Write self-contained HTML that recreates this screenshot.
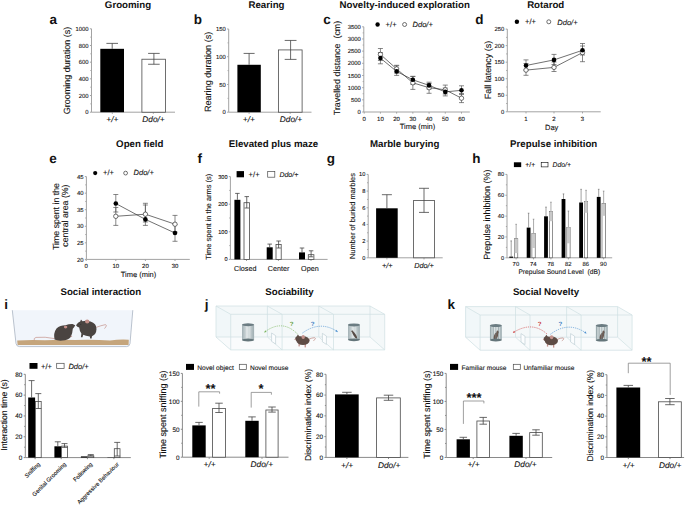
<!DOCTYPE html>
<html><head><meta charset="utf-8"><style>
html,body{margin:0;padding:0;background:#fff;width:685px;height:505px;overflow:hidden}
svg{display:block;font-family:"Liberation Sans",sans-serif;text-rendering:geometricPrecision}
svg text{white-space:pre}
</style></head><body>
<svg width="685" height="505" viewBox="0 0 685 505">
<defs><linearGradient id="cyl" x1="0" x2="1" y1="0" y2="0">
<stop offset="0" stop-color="#a3b1b5"/><stop offset="0.45" stop-color="#dde4e5"/><stop offset="1" stop-color="#9eadb1"/></linearGradient>
<linearGradient id="cylc" x1="0" x2="1" y1="0" y2="0">
<stop offset="0" stop-color="#b7c4c7"/><stop offset="0.5" stop-color="#e6ecec"/><stop offset="1" stop-color="#b7c4c7"/></linearGradient></defs>
<rect width="685" height="505" fill="#fff"/>
<text x="128.00" y="7.70" font-size="9.7" font-weight="bold" text-anchor="middle" fill="#111">Grooming</text>
<text x="49.50" y="23.90" font-size="13.5" font-weight="bold" text-anchor="start" fill="#111">a</text>
<line x1="91.50" y1="28.80" x2="91.50" y2="112.20" stroke="#a3a3a3" stroke-width="1.0"/>
<line x1="89.90" y1="112.20" x2="91.50" y2="112.20" stroke="#a3a3a3" stroke-width="1.0"/>
<text x="88.60" y="114.32" font-size="5.9" font-weight="normal" text-anchor="end" fill="#111" stroke="#111" stroke-width="0.1">0</text>
<line x1="89.90" y1="95.52" x2="91.50" y2="95.52" stroke="#a3a3a3" stroke-width="1.0"/>
<text x="88.60" y="97.64" font-size="5.9" font-weight="normal" text-anchor="end" fill="#111" stroke="#111" stroke-width="0.1">200</text>
<line x1="89.90" y1="78.84" x2="91.50" y2="78.84" stroke="#a3a3a3" stroke-width="1.0"/>
<text x="88.60" y="80.96" font-size="5.9" font-weight="normal" text-anchor="end" fill="#111" stroke="#111" stroke-width="0.1">400</text>
<line x1="89.90" y1="62.16" x2="91.50" y2="62.16" stroke="#a3a3a3" stroke-width="1.0"/>
<text x="88.60" y="64.28" font-size="5.9" font-weight="normal" text-anchor="end" fill="#111" stroke="#111" stroke-width="0.1">600</text>
<line x1="89.90" y1="45.48" x2="91.50" y2="45.48" stroke="#a3a3a3" stroke-width="1.0"/>
<text x="88.60" y="47.60" font-size="5.9" font-weight="normal" text-anchor="end" fill="#111" stroke="#111" stroke-width="0.1">800</text>
<line x1="89.90" y1="28.80" x2="91.50" y2="28.80" stroke="#a3a3a3" stroke-width="1.0"/>
<text x="88.60" y="30.92" font-size="5.9" font-weight="normal" text-anchor="end" fill="#111" stroke="#111" stroke-width="0.1">1000</text>
<line x1="90.38" y1="103.86" x2="91.50" y2="103.86" stroke="#a3a3a3" stroke-width="1.0"/>
<line x1="90.38" y1="87.18" x2="91.50" y2="87.18" stroke="#a3a3a3" stroke-width="1.0"/>
<line x1="90.38" y1="70.50" x2="91.50" y2="70.50" stroke="#a3a3a3" stroke-width="1.0"/>
<line x1="90.38" y1="53.82" x2="91.50" y2="53.82" stroke="#a3a3a3" stroke-width="1.0"/>
<line x1="90.38" y1="37.14" x2="91.50" y2="37.14" stroke="#a3a3a3" stroke-width="1.0"/>
<line x1="91.50" y1="112.20" x2="175.00" y2="112.20" stroke="#a3a3a3" stroke-width="1.0"/>
<line x1="112.30" y1="112.20" x2="112.30" y2="113.80" stroke="#a3a3a3" stroke-width="1.0"/>
<line x1="153.30" y1="112.20" x2="153.30" y2="113.80" stroke="#a3a3a3" stroke-width="1.0"/>
<rect x="100.30" y="48.82" width="23.70" height="63.38" fill="#000" stroke="none" stroke-width="0.8"/>
<line x1="112.20" y1="43.39" x2="112.20" y2="48.82" stroke="#444" stroke-width="0.8"/>
<line x1="106.40" y1="43.39" x2="118.00" y2="43.39" stroke="#444" stroke-width="0.8"/>
<rect x="141.90" y="59.22" width="23.50" height="52.98" fill="#fff" stroke="#4a4a4a" stroke-width="0.8"/>
<line x1="153.90" y1="53.40" x2="153.90" y2="64.25" stroke="#444" stroke-width="0.8"/>
<line x1="148.10" y1="53.40" x2="159.70" y2="53.40" stroke="#444" stroke-width="0.8"/>
<line x1="148.10" y1="64.25" x2="159.70" y2="64.25" stroke="#444" stroke-width="0.8"/>
<text x="112.30" y="122.40" font-size="8.3" font-weight="normal" text-anchor="middle" font-style="italic" fill="#111" stroke="#111" stroke-width="0.1">+/+</text>
<text x="153.50" y="122.40" font-size="8.3" font-weight="normal" text-anchor="middle" font-style="italic" fill="#111" stroke="#111" stroke-width="0.1">Ddo/+</text>
<text x="69.80" y="70.40" font-size="9.0" font-weight="normal" text-anchor="middle" fill="#111" stroke="#111" stroke-width="0.1" transform="rotate(-90 69.80 70.40)">Grooming duration (s)</text>
<text x="266.50" y="7.70" font-size="9.7" font-weight="bold" text-anchor="middle" fill="#111">Rearing</text>
<text x="193.80" y="23.90" font-size="13.5" font-weight="bold" text-anchor="start" fill="#111">b</text>
<line x1="228.70" y1="29.00" x2="228.70" y2="112.20" stroke="#a3a3a3" stroke-width="1.0"/>
<line x1="227.10" y1="112.20" x2="228.70" y2="112.20" stroke="#a3a3a3" stroke-width="1.0"/>
<text x="225.80" y="114.32" font-size="5.9" font-weight="normal" text-anchor="end" fill="#111" stroke="#111" stroke-width="0.1">0</text>
<line x1="227.10" y1="84.47" x2="228.70" y2="84.47" stroke="#a3a3a3" stroke-width="1.0"/>
<text x="225.80" y="86.59" font-size="5.9" font-weight="normal" text-anchor="end" fill="#111" stroke="#111" stroke-width="0.1">50</text>
<line x1="227.10" y1="56.73" x2="228.70" y2="56.73" stroke="#a3a3a3" stroke-width="1.0"/>
<text x="225.80" y="58.86" font-size="5.9" font-weight="normal" text-anchor="end" fill="#111" stroke="#111" stroke-width="0.1">100</text>
<line x1="227.10" y1="29.00" x2="228.70" y2="29.00" stroke="#a3a3a3" stroke-width="1.0"/>
<text x="225.80" y="31.12" font-size="5.9" font-weight="normal" text-anchor="end" fill="#111" stroke="#111" stroke-width="0.1">150</text>
<line x1="227.58" y1="98.33" x2="228.70" y2="98.33" stroke="#a3a3a3" stroke-width="1.0"/>
<line x1="227.58" y1="70.60" x2="228.70" y2="70.60" stroke="#a3a3a3" stroke-width="1.0"/>
<line x1="227.58" y1="42.87" x2="228.70" y2="42.87" stroke="#a3a3a3" stroke-width="1.0"/>
<line x1="228.70" y1="112.20" x2="311.50" y2="112.20" stroke="#a3a3a3" stroke-width="1.0"/>
<line x1="249.10" y1="112.20" x2="249.10" y2="113.80" stroke="#a3a3a3" stroke-width="1.0"/>
<line x1="290.20" y1="112.20" x2="290.20" y2="113.80" stroke="#a3a3a3" stroke-width="1.0"/>
<rect x="237.40" y="64.78" width="23.40" height="47.42" fill="#000" stroke="none" stroke-width="0.8"/>
<line x1="249.10" y1="53.41" x2="249.10" y2="64.78" stroke="#444" stroke-width="0.8"/>
<line x1="243.60" y1="53.41" x2="254.60" y2="53.41" stroke="#444" stroke-width="0.8"/>
<rect x="278.40" y="49.92" width="23.70" height="62.28" fill="#fff" stroke="#4a4a4a" stroke-width="0.8"/>
<line x1="290.60" y1="40.43" x2="290.60" y2="59.40" stroke="#444" stroke-width="0.8"/>
<line x1="284.70" y1="40.43" x2="296.50" y2="40.43" stroke="#444" stroke-width="0.8"/>
<line x1="284.70" y1="59.40" x2="296.50" y2="59.40" stroke="#444" stroke-width="0.8"/>
<text x="248.80" y="122.40" font-size="8.3" font-weight="normal" text-anchor="middle" font-style="italic" fill="#111" stroke="#111" stroke-width="0.1">+/+</text>
<text x="291.00" y="122.40" font-size="8.3" font-weight="normal" text-anchor="middle" font-style="italic" fill="#111" stroke="#111" stroke-width="0.1">Ddo/+</text>
<text x="210.60" y="71.90" font-size="9.1" font-weight="normal" text-anchor="middle" fill="#111" stroke="#111" stroke-width="0.1" transform="rotate(-90 210.60 71.90)">Rearing duration (s)</text>
<text x="404.70" y="7.70" font-size="9.7" font-weight="bold" text-anchor="middle" fill="#111">Novelty-induced exploration</text>
<text x="323.30" y="23.90" font-size="13.5" font-weight="bold" text-anchor="start" fill="#111">c</text>
<line x1="363.80" y1="26.80" x2="363.80" y2="112.00" stroke="#a3a3a3" stroke-width="1.0"/>
<line x1="362.20" y1="112.00" x2="363.80" y2="112.00" stroke="#a3a3a3" stroke-width="1.0"/>
<text x="360.90" y="114.12" font-size="5.9" font-weight="normal" text-anchor="end" fill="#111" stroke="#111" stroke-width="0.1">0</text>
<line x1="362.20" y1="99.83" x2="363.80" y2="99.83" stroke="#a3a3a3" stroke-width="1.0"/>
<text x="360.90" y="101.95" font-size="5.9" font-weight="normal" text-anchor="end" fill="#111" stroke="#111" stroke-width="0.1">500</text>
<line x1="362.20" y1="87.66" x2="363.80" y2="87.66" stroke="#a3a3a3" stroke-width="1.0"/>
<text x="360.90" y="89.78" font-size="5.9" font-weight="normal" text-anchor="end" fill="#111" stroke="#111" stroke-width="0.1">1000</text>
<line x1="362.20" y1="75.49" x2="363.80" y2="75.49" stroke="#a3a3a3" stroke-width="1.0"/>
<text x="360.90" y="77.61" font-size="5.9" font-weight="normal" text-anchor="end" fill="#111" stroke="#111" stroke-width="0.1">1500</text>
<line x1="362.20" y1="63.31" x2="363.80" y2="63.31" stroke="#a3a3a3" stroke-width="1.0"/>
<text x="360.90" y="65.44" font-size="5.9" font-weight="normal" text-anchor="end" fill="#111" stroke="#111" stroke-width="0.1">2000</text>
<line x1="362.20" y1="51.14" x2="363.80" y2="51.14" stroke="#a3a3a3" stroke-width="1.0"/>
<text x="360.90" y="53.27" font-size="5.9" font-weight="normal" text-anchor="end" fill="#111" stroke="#111" stroke-width="0.1">2500</text>
<line x1="362.20" y1="38.97" x2="363.80" y2="38.97" stroke="#a3a3a3" stroke-width="1.0"/>
<text x="360.90" y="41.10" font-size="5.9" font-weight="normal" text-anchor="end" fill="#111" stroke="#111" stroke-width="0.1">3000</text>
<line x1="362.20" y1="26.80" x2="363.80" y2="26.80" stroke="#a3a3a3" stroke-width="1.0"/>
<text x="360.90" y="28.92" font-size="5.9" font-weight="normal" text-anchor="end" fill="#111" stroke="#111" stroke-width="0.1">3500</text>
<line x1="362.68" y1="105.91" x2="363.80" y2="105.91" stroke="#a3a3a3" stroke-width="1.0"/>
<line x1="362.68" y1="93.74" x2="363.80" y2="93.74" stroke="#a3a3a3" stroke-width="1.0"/>
<line x1="362.68" y1="81.57" x2="363.80" y2="81.57" stroke="#a3a3a3" stroke-width="1.0"/>
<line x1="362.68" y1="69.40" x2="363.80" y2="69.40" stroke="#a3a3a3" stroke-width="1.0"/>
<line x1="362.68" y1="57.23" x2="363.80" y2="57.23" stroke="#a3a3a3" stroke-width="1.0"/>
<line x1="362.68" y1="45.06" x2="363.80" y2="45.06" stroke="#a3a3a3" stroke-width="1.0"/>
<line x1="362.68" y1="32.89" x2="363.80" y2="32.89" stroke="#a3a3a3" stroke-width="1.0"/>
<line x1="363.80" y1="112.00" x2="469.80" y2="112.00" stroke="#a3a3a3" stroke-width="1.0"/>
<line x1="364.20" y1="112.00" x2="364.20" y2="113.60" stroke="#a3a3a3" stroke-width="1.0"/>
<line x1="380.42" y1="112.00" x2="380.42" y2="113.60" stroke="#a3a3a3" stroke-width="1.0"/>
<line x1="396.63" y1="112.00" x2="396.63" y2="113.60" stroke="#a3a3a3" stroke-width="1.0"/>
<line x1="412.85" y1="112.00" x2="412.85" y2="113.60" stroke="#a3a3a3" stroke-width="1.0"/>
<line x1="429.07" y1="112.00" x2="429.07" y2="113.60" stroke="#a3a3a3" stroke-width="1.0"/>
<line x1="445.28" y1="112.00" x2="445.28" y2="113.60" stroke="#a3a3a3" stroke-width="1.0"/>
<line x1="461.50" y1="112.00" x2="461.50" y2="113.60" stroke="#a3a3a3" stroke-width="1.0"/>
<text x="364.20" y="120.60" font-size="6" font-weight="normal" text-anchor="middle" fill="#111" stroke="#111" stroke-width="0.1">0</text>
<text x="380.42" y="120.60" font-size="6" font-weight="normal" text-anchor="middle" fill="#111" stroke="#111" stroke-width="0.1">10</text>
<text x="396.63" y="120.60" font-size="6" font-weight="normal" text-anchor="middle" fill="#111" stroke="#111" stroke-width="0.1">20</text>
<text x="412.85" y="120.60" font-size="6" font-weight="normal" text-anchor="middle" fill="#111" stroke="#111" stroke-width="0.1">30</text>
<text x="429.07" y="120.60" font-size="6" font-weight="normal" text-anchor="middle" fill="#111" stroke="#111" stroke-width="0.1">40</text>
<text x="445.28" y="120.60" font-size="6" font-weight="normal" text-anchor="middle" fill="#111" stroke="#111" stroke-width="0.1">50</text>
<text x="461.50" y="120.60" font-size="6" font-weight="normal" text-anchor="middle" fill="#111" stroke="#111" stroke-width="0.1">60</text>
<text x="417.50" y="128.60" font-size="7.5" font-weight="normal" text-anchor="middle" fill="#111" stroke="#111" stroke-width="0.1">Time (min)</text>
<text x="340.40" y="68.00" font-size="8.9" font-weight="normal" text-anchor="middle" fill="#111" stroke="#111" stroke-width="0.1" transform="rotate(-90 340.40 68.00)">Travelled distance  (cm)</text>
<line x1="380.42" y1="52.50" x2="380.42" y2="63.80" stroke="#555" stroke-width="0.7"/>
<line x1="377.92" y1="52.50" x2="382.92" y2="52.50" stroke="#555" stroke-width="0.7"/>
<line x1="377.92" y1="63.80" x2="382.92" y2="63.80" stroke="#555" stroke-width="0.7"/>
<line x1="396.63" y1="65.80" x2="396.63" y2="75.40" stroke="#555" stroke-width="0.7"/>
<line x1="394.13" y1="65.80" x2="399.13" y2="65.80" stroke="#555" stroke-width="0.7"/>
<line x1="394.13" y1="75.40" x2="399.13" y2="75.40" stroke="#555" stroke-width="0.7"/>
<line x1="412.85" y1="76.30" x2="412.85" y2="84.30" stroke="#555" stroke-width="0.7"/>
<line x1="410.35" y1="76.30" x2="415.35" y2="76.30" stroke="#555" stroke-width="0.7"/>
<line x1="410.35" y1="84.30" x2="415.35" y2="84.30" stroke="#555" stroke-width="0.7"/>
<line x1="429.07" y1="82.20" x2="429.07" y2="89.00" stroke="#555" stroke-width="0.7"/>
<line x1="426.57" y1="82.20" x2="431.57" y2="82.20" stroke="#555" stroke-width="0.7"/>
<line x1="426.57" y1="89.00" x2="431.57" y2="89.00" stroke="#555" stroke-width="0.7"/>
<line x1="445.28" y1="88.00" x2="445.28" y2="95.90" stroke="#555" stroke-width="0.7"/>
<line x1="442.78" y1="88.00" x2="447.78" y2="88.00" stroke="#555" stroke-width="0.7"/>
<line x1="442.78" y1="95.90" x2="447.78" y2="95.90" stroke="#555" stroke-width="0.7"/>
<line x1="461.50" y1="85.80" x2="461.50" y2="94.50" stroke="#555" stroke-width="0.7"/>
<line x1="459.00" y1="85.80" x2="464.00" y2="85.80" stroke="#555" stroke-width="0.7"/>
<line x1="459.00" y1="94.50" x2="464.00" y2="94.50" stroke="#555" stroke-width="0.7"/>
<line x1="380.42" y1="48.50" x2="380.42" y2="60.50" stroke="#555" stroke-width="0.7"/>
<line x1="377.92" y1="48.50" x2="382.92" y2="48.50" stroke="#555" stroke-width="0.7"/>
<line x1="377.92" y1="60.50" x2="382.92" y2="60.50" stroke="#555" stroke-width="0.7"/>
<line x1="396.63" y1="65.30" x2="396.63" y2="73.00" stroke="#555" stroke-width="0.7"/>
<line x1="394.13" y1="65.30" x2="399.13" y2="65.30" stroke="#555" stroke-width="0.7"/>
<line x1="394.13" y1="73.00" x2="399.13" y2="73.00" stroke="#555" stroke-width="0.7"/>
<line x1="412.85" y1="76.50" x2="412.85" y2="89.40" stroke="#555" stroke-width="0.7"/>
<line x1="410.35" y1="76.50" x2="415.35" y2="76.50" stroke="#555" stroke-width="0.7"/>
<line x1="410.35" y1="89.40" x2="415.35" y2="89.40" stroke="#555" stroke-width="0.7"/>
<line x1="429.07" y1="83.50" x2="429.07" y2="93.30" stroke="#555" stroke-width="0.7"/>
<line x1="426.57" y1="83.50" x2="431.57" y2="83.50" stroke="#555" stroke-width="0.7"/>
<line x1="426.57" y1="93.30" x2="431.57" y2="93.30" stroke="#555" stroke-width="0.7"/>
<line x1="445.28" y1="85.10" x2="445.28" y2="94.00" stroke="#555" stroke-width="0.7"/>
<line x1="442.78" y1="85.10" x2="447.78" y2="85.10" stroke="#555" stroke-width="0.7"/>
<line x1="442.78" y1="94.00" x2="447.78" y2="94.00" stroke="#555" stroke-width="0.7"/>
<line x1="461.50" y1="93.50" x2="461.50" y2="102.60" stroke="#555" stroke-width="0.7"/>
<line x1="459.00" y1="93.50" x2="464.00" y2="93.50" stroke="#555" stroke-width="0.7"/>
<line x1="459.00" y1="102.60" x2="464.00" y2="102.60" stroke="#555" stroke-width="0.7"/>
<polyline fill="none" stroke="#333" stroke-width="0.7" points="380.42,58.1 396.63,71.4 412.85,79.8 429.07,85.4 445.28,91.9 461.50,90.3"/>
<polyline fill="none" stroke="#333" stroke-width="0.7" points="380.42,54.4 396.63,68.9 412.85,82.8 429.07,87.7 445.28,89.8 461.50,98.2"/>
<circle cx="380.42" cy="54.40" r="2.2" fill="#fff" stroke="#333" stroke-width="0.7"/>
<circle cx="396.63" cy="68.90" r="2.2" fill="#fff" stroke="#333" stroke-width="0.7"/>
<circle cx="412.85" cy="82.80" r="2.2" fill="#fff" stroke="#333" stroke-width="0.7"/>
<circle cx="429.07" cy="87.70" r="2.2" fill="#fff" stroke="#333" stroke-width="0.7"/>
<circle cx="445.28" cy="89.80" r="2.2" fill="#fff" stroke="#333" stroke-width="0.7"/>
<circle cx="461.50" cy="98.20" r="2.2" fill="#fff" stroke="#333" stroke-width="0.7"/>
<circle cx="380.42" cy="58.10" r="2.3" fill="#000" stroke="none" stroke-width="0.8"/>
<circle cx="396.63" cy="71.40" r="2.3" fill="#000" stroke="none" stroke-width="0.8"/>
<circle cx="412.85" cy="79.80" r="2.3" fill="#000" stroke="none" stroke-width="0.8"/>
<circle cx="429.07" cy="85.40" r="2.3" fill="#000" stroke="none" stroke-width="0.8"/>
<circle cx="445.28" cy="91.90" r="2.3" fill="#000" stroke="none" stroke-width="0.8"/>
<circle cx="461.50" cy="90.30" r="2.3" fill="#000" stroke="none" stroke-width="0.8"/>
<circle cx="377.60" cy="24.50" r="2.2" fill="#000" stroke="none" stroke-width="0.8"/>
<text x="385.60" y="26.80" font-size="7.6" font-weight="normal" text-anchor="start" fill="#111" stroke="#111" stroke-width="0.1">+/+</text>
<circle cx="404.60" cy="24.50" r="2.0" fill="#fff" stroke="#333" stroke-width="0.7"/>
<text x="412.60" y="26.80" font-size="7.5" font-weight="normal" text-anchor="start" font-style="italic" fill="#111" stroke="#111" stroke-width="0.1">Ddo/+</text>
<text x="545.70" y="7.70" font-size="9.7" font-weight="bold" text-anchor="middle" fill="#111">Rotarod</text>
<text x="475.30" y="23.90" font-size="13.5" font-weight="bold" text-anchor="start" fill="#111">d</text>
<line x1="507.30" y1="29.10" x2="507.30" y2="111.80" stroke="#a3a3a3" stroke-width="1.0"/>
<line x1="505.70" y1="111.80" x2="507.30" y2="111.80" stroke="#a3a3a3" stroke-width="1.0"/>
<text x="504.40" y="113.92" font-size="5.9" font-weight="normal" text-anchor="end" fill="#111" stroke="#111" stroke-width="0.1">0</text>
<line x1="505.70" y1="95.26" x2="507.30" y2="95.26" stroke="#a3a3a3" stroke-width="1.0"/>
<text x="504.40" y="97.38" font-size="5.9" font-weight="normal" text-anchor="end" fill="#111" stroke="#111" stroke-width="0.1">50</text>
<line x1="505.70" y1="78.72" x2="507.30" y2="78.72" stroke="#a3a3a3" stroke-width="1.0"/>
<text x="504.40" y="80.84" font-size="5.9" font-weight="normal" text-anchor="end" fill="#111" stroke="#111" stroke-width="0.1">100</text>
<line x1="505.70" y1="62.18" x2="507.30" y2="62.18" stroke="#a3a3a3" stroke-width="1.0"/>
<text x="504.40" y="64.30" font-size="5.9" font-weight="normal" text-anchor="end" fill="#111" stroke="#111" stroke-width="0.1">150</text>
<line x1="505.70" y1="45.64" x2="507.30" y2="45.64" stroke="#a3a3a3" stroke-width="1.0"/>
<text x="504.40" y="47.76" font-size="5.9" font-weight="normal" text-anchor="end" fill="#111" stroke="#111" stroke-width="0.1">200</text>
<line x1="505.70" y1="29.10" x2="507.30" y2="29.10" stroke="#a3a3a3" stroke-width="1.0"/>
<text x="504.40" y="31.22" font-size="5.9" font-weight="normal" text-anchor="end" fill="#111" stroke="#111" stroke-width="0.1">250</text>
<line x1="506.18" y1="103.53" x2="507.30" y2="103.53" stroke="#a3a3a3" stroke-width="1.0"/>
<line x1="506.18" y1="86.99" x2="507.30" y2="86.99" stroke="#a3a3a3" stroke-width="1.0"/>
<line x1="506.18" y1="70.45" x2="507.30" y2="70.45" stroke="#a3a3a3" stroke-width="1.0"/>
<line x1="506.18" y1="53.91" x2="507.30" y2="53.91" stroke="#a3a3a3" stroke-width="1.0"/>
<line x1="506.18" y1="37.37" x2="507.30" y2="37.37" stroke="#a3a3a3" stroke-width="1.0"/>
<line x1="507.30" y1="111.80" x2="600.70" y2="111.80" stroke="#a3a3a3" stroke-width="1.0"/>
<line x1="526.00" y1="111.80" x2="526.00" y2="113.40" stroke="#a3a3a3" stroke-width="1.0"/>
<line x1="554.00" y1="111.80" x2="554.00" y2="113.40" stroke="#a3a3a3" stroke-width="1.0"/>
<line x1="582.50" y1="111.80" x2="582.50" y2="113.40" stroke="#a3a3a3" stroke-width="1.0"/>
<text x="526.00" y="120.60" font-size="6" font-weight="normal" text-anchor="middle" fill="#111" stroke="#111" stroke-width="0.1">1</text>
<text x="554.00" y="120.60" font-size="6" font-weight="normal" text-anchor="middle" fill="#111" stroke="#111" stroke-width="0.1">2</text>
<text x="582.50" y="120.60" font-size="6" font-weight="normal" text-anchor="middle" fill="#111" stroke="#111" stroke-width="0.1">3</text>
<text x="551.70" y="130.00" font-size="7.5" font-weight="normal" text-anchor="middle" fill="#111" stroke="#111" stroke-width="0.1">Day</text>
<text x="491.30" y="70.00" font-size="9.0" font-weight="normal" text-anchor="middle" fill="#111" stroke="#111" stroke-width="0.1" transform="rotate(-90 491.30 70.00)">Fall latency (s)</text>
<line x1="526.00" y1="59.90" x2="526.00" y2="70.00" stroke="#555" stroke-width="0.7"/>
<line x1="523.50" y1="59.90" x2="528.50" y2="59.90" stroke="#555" stroke-width="0.7"/>
<line x1="523.50" y1="70.00" x2="528.50" y2="70.00" stroke="#555" stroke-width="0.7"/>
<line x1="554.00" y1="54.40" x2="554.00" y2="64.50" stroke="#555" stroke-width="0.7"/>
<line x1="551.50" y1="54.40" x2="556.50" y2="54.40" stroke="#555" stroke-width="0.7"/>
<line x1="551.50" y1="64.50" x2="556.50" y2="64.50" stroke="#555" stroke-width="0.7"/>
<line x1="582.50" y1="43.50" x2="582.50" y2="55.00" stroke="#555" stroke-width="0.7"/>
<line x1="580.00" y1="43.50" x2="585.00" y2="43.50" stroke="#555" stroke-width="0.7"/>
<line x1="580.00" y1="55.00" x2="585.00" y2="55.00" stroke="#555" stroke-width="0.7"/>
<line x1="526.00" y1="63.50" x2="526.00" y2="75.30" stroke="#555" stroke-width="0.7"/>
<line x1="523.50" y1="63.50" x2="528.50" y2="63.50" stroke="#555" stroke-width="0.7"/>
<line x1="523.50" y1="75.30" x2="528.50" y2="75.30" stroke="#555" stroke-width="0.7"/>
<line x1="554.00" y1="62.00" x2="554.00" y2="71.50" stroke="#555" stroke-width="0.7"/>
<line x1="551.50" y1="62.00" x2="556.50" y2="62.00" stroke="#555" stroke-width="0.7"/>
<line x1="551.50" y1="71.50" x2="556.50" y2="71.50" stroke="#555" stroke-width="0.7"/>
<line x1="582.50" y1="46.00" x2="582.50" y2="61.70" stroke="#555" stroke-width="0.7"/>
<line x1="580.00" y1="46.00" x2="585.00" y2="46.00" stroke="#555" stroke-width="0.7"/>
<line x1="580.00" y1="61.70" x2="585.00" y2="61.70" stroke="#555" stroke-width="0.7"/>
<polyline fill="none" stroke="#333" stroke-width="0.7" points="526.0,65.5 554.0,59.9 582.5,50.3"/>
<polyline fill="none" stroke="#333" stroke-width="0.7" points="526.0,70.1 554.0,67.4 582.5,52.6"/>
<circle cx="526.00" cy="70.10" r="2.2" fill="#fff" stroke="#333" stroke-width="0.7"/>
<circle cx="554.00" cy="67.40" r="2.2" fill="#fff" stroke="#333" stroke-width="0.7"/>
<circle cx="582.50" cy="52.60" r="2.2" fill="#fff" stroke="#333" stroke-width="0.7"/>
<circle cx="526.00" cy="65.50" r="2.3" fill="#000" stroke="none" stroke-width="0.8"/>
<circle cx="554.00" cy="59.90" r="2.3" fill="#000" stroke="none" stroke-width="0.8"/>
<circle cx="582.50" cy="50.30" r="2.3" fill="#000" stroke="none" stroke-width="0.8"/>
<circle cx="516.90" cy="21.80" r="2.2" fill="#000" stroke="none" stroke-width="0.8"/>
<text x="525.00" y="24.40" font-size="7.6" font-weight="normal" text-anchor="start" fill="#111" stroke="#111" stroke-width="0.1">+/+</text>
<circle cx="548.80" cy="21.80" r="2.0" fill="#fff" stroke="#333" stroke-width="0.7"/>
<text x="557.30" y="24.60" font-size="7.5" font-weight="normal" text-anchor="start" font-style="italic" fill="#111" stroke="#111" stroke-width="0.1">Ddo/+</text>
<text x="139.80" y="146.80" font-size="9.7" font-weight="bold" text-anchor="middle" fill="#111">Open field</text>
<text x="49.30" y="162.60" font-size="13.5" font-weight="bold" text-anchor="start" fill="#111">e</text>
<line x1="86.40" y1="176.60" x2="86.40" y2="259.40" stroke="#a3a3a3" stroke-width="1.0"/>
<line x1="84.80" y1="259.40" x2="86.40" y2="259.40" stroke="#a3a3a3" stroke-width="1.0"/>
<text x="83.50" y="261.52" font-size="5.9" font-weight="normal" text-anchor="end" fill="#111" stroke="#111" stroke-width="0.1">20</text>
<line x1="84.80" y1="242.84" x2="86.40" y2="242.84" stroke="#a3a3a3" stroke-width="1.0"/>
<text x="83.50" y="244.96" font-size="5.9" font-weight="normal" text-anchor="end" fill="#111" stroke="#111" stroke-width="0.1">25</text>
<line x1="84.80" y1="226.28" x2="86.40" y2="226.28" stroke="#a3a3a3" stroke-width="1.0"/>
<text x="83.50" y="228.40" font-size="5.9" font-weight="normal" text-anchor="end" fill="#111" stroke="#111" stroke-width="0.1">30</text>
<line x1="84.80" y1="209.72" x2="86.40" y2="209.72" stroke="#a3a3a3" stroke-width="1.0"/>
<text x="83.50" y="211.84" font-size="5.9" font-weight="normal" text-anchor="end" fill="#111" stroke="#111" stroke-width="0.1">35</text>
<line x1="84.80" y1="193.16" x2="86.40" y2="193.16" stroke="#a3a3a3" stroke-width="1.0"/>
<text x="83.50" y="195.28" font-size="5.9" font-weight="normal" text-anchor="end" fill="#111" stroke="#111" stroke-width="0.1">40</text>
<line x1="84.80" y1="176.60" x2="86.40" y2="176.60" stroke="#a3a3a3" stroke-width="1.0"/>
<text x="83.50" y="178.72" font-size="5.9" font-weight="normal" text-anchor="end" fill="#111" stroke="#111" stroke-width="0.1">45</text>
<line x1="85.28" y1="251.12" x2="86.40" y2="251.12" stroke="#a3a3a3" stroke-width="1.0"/>
<line x1="85.28" y1="234.56" x2="86.40" y2="234.56" stroke="#a3a3a3" stroke-width="1.0"/>
<line x1="85.28" y1="218.00" x2="86.40" y2="218.00" stroke="#a3a3a3" stroke-width="1.0"/>
<line x1="85.28" y1="201.44" x2="86.40" y2="201.44" stroke="#a3a3a3" stroke-width="1.0"/>
<line x1="85.28" y1="184.88" x2="86.40" y2="184.88" stroke="#a3a3a3" stroke-width="1.0"/>
<line x1="86.40" y1="259.40" x2="189.80" y2="259.40" stroke="#a3a3a3" stroke-width="1.0"/>
<line x1="86.20" y1="259.40" x2="86.20" y2="261.00" stroke="#a3a3a3" stroke-width="1.0"/>
<line x1="115.80" y1="259.40" x2="115.80" y2="261.00" stroke="#a3a3a3" stroke-width="1.0"/>
<line x1="145.40" y1="259.40" x2="145.40" y2="261.00" stroke="#a3a3a3" stroke-width="1.0"/>
<line x1="175.00" y1="259.40" x2="175.00" y2="261.00" stroke="#a3a3a3" stroke-width="1.0"/>
<text x="86.20" y="268.00" font-size="6" font-weight="normal" text-anchor="middle" fill="#111" stroke="#111" stroke-width="0.1">0</text>
<text x="115.80" y="268.00" font-size="6" font-weight="normal" text-anchor="middle" fill="#111" stroke="#111" stroke-width="0.1">10</text>
<text x="145.40" y="268.00" font-size="6" font-weight="normal" text-anchor="middle" fill="#111" stroke="#111" stroke-width="0.1">20</text>
<text x="175.00" y="268.00" font-size="6" font-weight="normal" text-anchor="middle" fill="#111" stroke="#111" stroke-width="0.1">30</text>
<text x="138.50" y="277.00" font-size="7.5" font-weight="normal" text-anchor="middle" fill="#111" stroke="#111" stroke-width="0.1">Time (min)</text>
<text x="58.60" y="216.50" font-size="8.75" font-weight="normal" text-anchor="middle" fill="#111" stroke="#111" stroke-width="0.1" transform="rotate(-90 58.60 216.50)">Time spent in the</text>
<text x="68.50" y="215.60" font-size="8.75" font-weight="normal" text-anchor="middle" fill="#111" stroke="#111" stroke-width="0.1" transform="rotate(-90 68.50 215.60)">central area (%)</text>
<line x1="115.80" y1="194.50" x2="115.80" y2="212.00" stroke="#555" stroke-width="0.7"/>
<line x1="113.30" y1="194.50" x2="118.30" y2="194.50" stroke="#555" stroke-width="0.7"/>
<line x1="113.30" y1="212.00" x2="118.30" y2="212.00" stroke="#555" stroke-width="0.7"/>
<line x1="145.40" y1="205.00" x2="145.40" y2="225.40" stroke="#555" stroke-width="0.7"/>
<line x1="142.90" y1="205.00" x2="147.90" y2="205.00" stroke="#555" stroke-width="0.7"/>
<line x1="142.90" y1="225.40" x2="147.90" y2="225.40" stroke="#555" stroke-width="0.7"/>
<line x1="175.00" y1="224.50" x2="175.00" y2="241.30" stroke="#555" stroke-width="0.7"/>
<line x1="172.50" y1="224.50" x2="177.50" y2="224.50" stroke="#555" stroke-width="0.7"/>
<line x1="172.50" y1="241.30" x2="177.50" y2="241.30" stroke="#555" stroke-width="0.7"/>
<line x1="115.80" y1="207.50" x2="115.80" y2="225.40" stroke="#555" stroke-width="0.7"/>
<line x1="113.30" y1="207.50" x2="118.30" y2="207.50" stroke="#555" stroke-width="0.7"/>
<line x1="113.30" y1="225.40" x2="118.30" y2="225.40" stroke="#555" stroke-width="0.7"/>
<line x1="145.40" y1="203.30" x2="145.40" y2="222.00" stroke="#555" stroke-width="0.7"/>
<line x1="142.90" y1="203.30" x2="147.90" y2="203.30" stroke="#555" stroke-width="0.7"/>
<line x1="142.90" y1="222.00" x2="147.90" y2="222.00" stroke="#555" stroke-width="0.7"/>
<line x1="175.00" y1="215.40" x2="175.00" y2="232.00" stroke="#555" stroke-width="0.7"/>
<line x1="172.50" y1="215.40" x2="177.50" y2="215.40" stroke="#555" stroke-width="0.7"/>
<line x1="172.50" y1="232.00" x2="177.50" y2="232.00" stroke="#555" stroke-width="0.7"/>
<polyline fill="none" stroke="#333" stroke-width="0.7" points="115.80,203.5 145.40,219.4 175.00,233.0"/>
<polyline fill="none" stroke="#333" stroke-width="0.7" points="115.80,216.3 145.40,214.2 175.00,224.2"/>
<circle cx="115.80" cy="216.30" r="2.2" fill="#fff" stroke="#333" stroke-width="0.7"/>
<circle cx="145.40" cy="214.20" r="2.2" fill="#fff" stroke="#333" stroke-width="0.7"/>
<circle cx="175.00" cy="224.20" r="2.2" fill="#fff" stroke="#333" stroke-width="0.7"/>
<circle cx="115.80" cy="203.50" r="2.3" fill="#000" stroke="none" stroke-width="0.8"/>
<circle cx="145.40" cy="219.40" r="2.3" fill="#000" stroke="none" stroke-width="0.8"/>
<circle cx="175.00" cy="233.00" r="2.3" fill="#000" stroke="none" stroke-width="0.8"/>
<circle cx="95.20" cy="173.10" r="2.1" fill="#000" stroke="none" stroke-width="0.8"/>
<text x="103.00" y="175.40" font-size="7.6" font-weight="normal" text-anchor="start" fill="#111" stroke="#111" stroke-width="0.1">+/+</text>
<circle cx="125.60" cy="173.10" r="1.9" fill="#fff" stroke="#333" stroke-width="0.7"/>
<text x="133.60" y="175.40" font-size="7.5" font-weight="normal" text-anchor="start" font-style="italic" fill="#111" stroke="#111" stroke-width="0.1">Ddo/+</text>
<text x="273.50" y="146.80" font-size="9.7" font-weight="bold" text-anchor="middle" fill="#111">Elevated plus maze</text>
<text x="197.50" y="162.60" font-size="13.5" font-weight="bold" text-anchor="start" fill="#111">f</text>
<line x1="230.40" y1="176.60" x2="230.40" y2="259.40" stroke="#a3a3a3" stroke-width="1.0"/>
<line x1="228.80" y1="259.40" x2="230.40" y2="259.40" stroke="#a3a3a3" stroke-width="1.0"/>
<text x="227.50" y="261.42" font-size="5.6" font-weight="normal" text-anchor="end" fill="#111" stroke="#111" stroke-width="0.1">0</text>
<line x1="228.80" y1="231.80" x2="230.40" y2="231.80" stroke="#a3a3a3" stroke-width="1.0"/>
<text x="227.50" y="233.82" font-size="5.6" font-weight="normal" text-anchor="end" fill="#111" stroke="#111" stroke-width="0.1">100</text>
<line x1="228.80" y1="204.20" x2="230.40" y2="204.20" stroke="#a3a3a3" stroke-width="1.0"/>
<text x="227.50" y="206.22" font-size="5.6" font-weight="normal" text-anchor="end" fill="#111" stroke="#111" stroke-width="0.1">200</text>
<line x1="228.80" y1="176.60" x2="230.40" y2="176.60" stroke="#a3a3a3" stroke-width="1.0"/>
<text x="227.50" y="178.62" font-size="5.6" font-weight="normal" text-anchor="end" fill="#111" stroke="#111" stroke-width="0.1">300</text>
<line x1="229.28" y1="245.60" x2="230.40" y2="245.60" stroke="#a3a3a3" stroke-width="1.0"/>
<line x1="229.28" y1="218.00" x2="230.40" y2="218.00" stroke="#a3a3a3" stroke-width="1.0"/>
<line x1="229.28" y1="190.40" x2="230.40" y2="190.40" stroke="#a3a3a3" stroke-width="1.0"/>
<line x1="230.40" y1="259.40" x2="327.60" y2="259.40" stroke="#a3a3a3" stroke-width="1.0"/>
<line x1="246.50" y1="259.40" x2="246.50" y2="261.00" stroke="#a3a3a3" stroke-width="1.0"/>
<line x1="278.40" y1="259.40" x2="278.40" y2="261.00" stroke="#a3a3a3" stroke-width="1.0"/>
<line x1="311.00" y1="259.40" x2="311.00" y2="261.00" stroke="#a3a3a3" stroke-width="1.0"/>
<rect x="234.40" y="199.80" width="6.00" height="59.60" fill="#000" stroke="none" stroke-width="0.8"/>
<line x1="237.40" y1="193.40" x2="237.40" y2="199.80" stroke="#444" stroke-width="0.8"/>
<line x1="235.15" y1="193.40" x2="239.65" y2="193.40" stroke="#444" stroke-width="0.8"/>
<rect x="244.00" y="202.70" width="5.50" height="56.70" fill="#fff" stroke="#4a4a4a" stroke-width="0.8"/>
<line x1="246.75" y1="196.60" x2="246.75" y2="208.00" stroke="#444" stroke-width="0.8"/>
<line x1="244.50" y1="196.60" x2="249.00" y2="196.60" stroke="#444" stroke-width="0.8"/>
<line x1="244.50" y1="208.00" x2="249.00" y2="208.00" stroke="#444" stroke-width="0.8"/>
<rect x="266.70" y="247.30" width="6.00" height="12.10" fill="#000" stroke="none" stroke-width="0.8"/>
<line x1="269.70" y1="244.10" x2="269.70" y2="247.30" stroke="#444" stroke-width="0.8"/>
<line x1="267.45" y1="244.10" x2="271.95" y2="244.10" stroke="#444" stroke-width="0.8"/>
<rect x="276.00" y="244.50" width="5.20" height="14.90" fill="#fff" stroke="#4a4a4a" stroke-width="0.8"/>
<line x1="278.60" y1="241.00" x2="278.60" y2="248.00" stroke="#444" stroke-width="0.8"/>
<line x1="276.35" y1="241.00" x2="280.85" y2="241.00" stroke="#444" stroke-width="0.8"/>
<line x1="276.35" y1="248.00" x2="280.85" y2="248.00" stroke="#444" stroke-width="0.8"/>
<rect x="299.00" y="252.40" width="6.00" height="7.00" fill="#000" stroke="none" stroke-width="0.8"/>
<line x1="302.00" y1="248.00" x2="302.00" y2="252.40" stroke="#444" stroke-width="0.8"/>
<line x1="299.75" y1="248.00" x2="304.25" y2="248.00" stroke="#444" stroke-width="0.8"/>
<rect x="308.30" y="254.70" width="5.60" height="4.70" fill="#fff" stroke="#4a4a4a" stroke-width="0.8"/>
<line x1="311.10" y1="250.80" x2="311.10" y2="256.80" stroke="#444" stroke-width="0.8"/>
<line x1="308.85" y1="250.80" x2="313.35" y2="250.80" stroke="#444" stroke-width="0.8"/>
<line x1="308.85" y1="256.80" x2="313.35" y2="256.80" stroke="#444" stroke-width="0.8"/>
<text x="245.20" y="271.20" font-size="7.2" font-weight="normal" text-anchor="middle" fill="#111" stroke="#111" stroke-width="0.1">Closed</text>
<text x="278.60" y="271.20" font-size="7.2" font-weight="normal" text-anchor="middle" fill="#111" stroke="#111" stroke-width="0.1">Center</text>
<text x="309.90" y="271.20" font-size="7.2" font-weight="normal" text-anchor="middle" fill="#111" stroke="#111" stroke-width="0.1">Open</text>
<text x="210.90" y="216.80" font-size="7.45" font-weight="normal" text-anchor="middle" fill="#111" stroke="#111" stroke-width="0.1" transform="rotate(-90 210.90 216.80)">Time spent in the arms (s)</text>
<rect x="236.60" y="171.10" width="7.40" height="6.20" fill="#000" stroke="none" stroke-width="0.8"/>
<text x="248.60" y="176.60" font-size="7.6" font-weight="normal" text-anchor="start" fill="#111" stroke="#111" stroke-width="0.1">+/+</text>
<rect x="267.70" y="171.60" width="7.10" height="5.60" fill="#fff" stroke="#4a4a4a" stroke-width="0.7"/>
<text x="279.40" y="176.60" font-size="7" font-weight="normal" text-anchor="start" font-style="italic" fill="#111" stroke="#111" stroke-width="0.1">Ddo/+</text>
<text x="404.70" y="146.80" font-size="9.7" font-weight="bold" text-anchor="middle" fill="#111">Marble burying</text>
<text x="326.80" y="162.60" font-size="13.5" font-weight="bold" text-anchor="start" fill="#111">g</text>
<line x1="368.20" y1="174.40" x2="368.20" y2="257.80" stroke="#a3a3a3" stroke-width="1.0"/>
<line x1="366.60" y1="257.80" x2="368.20" y2="257.80" stroke="#a3a3a3" stroke-width="1.0"/>
<text x="365.30" y="259.85" font-size="5.7" font-weight="normal" text-anchor="end" fill="#111" stroke="#111" stroke-width="0.1">0</text>
<line x1="366.60" y1="241.12" x2="368.20" y2="241.12" stroke="#a3a3a3" stroke-width="1.0"/>
<text x="365.30" y="243.17" font-size="5.7" font-weight="normal" text-anchor="end" fill="#111" stroke="#111" stroke-width="0.1">2</text>
<line x1="366.60" y1="224.44" x2="368.20" y2="224.44" stroke="#a3a3a3" stroke-width="1.0"/>
<text x="365.30" y="226.49" font-size="5.7" font-weight="normal" text-anchor="end" fill="#111" stroke="#111" stroke-width="0.1">4</text>
<line x1="366.60" y1="207.76" x2="368.20" y2="207.76" stroke="#a3a3a3" stroke-width="1.0"/>
<text x="365.30" y="209.81" font-size="5.7" font-weight="normal" text-anchor="end" fill="#111" stroke="#111" stroke-width="0.1">6</text>
<line x1="366.60" y1="191.08" x2="368.20" y2="191.08" stroke="#a3a3a3" stroke-width="1.0"/>
<text x="365.30" y="193.13" font-size="5.7" font-weight="normal" text-anchor="end" fill="#111" stroke="#111" stroke-width="0.1">8</text>
<line x1="366.60" y1="174.40" x2="368.20" y2="174.40" stroke="#a3a3a3" stroke-width="1.0"/>
<text x="365.30" y="176.45" font-size="5.7" font-weight="normal" text-anchor="end" fill="#111" stroke="#111" stroke-width="0.1">10</text>
<line x1="367.08" y1="249.46" x2="368.20" y2="249.46" stroke="#a3a3a3" stroke-width="1.0"/>
<line x1="367.08" y1="232.78" x2="368.20" y2="232.78" stroke="#a3a3a3" stroke-width="1.0"/>
<line x1="367.08" y1="216.10" x2="368.20" y2="216.10" stroke="#a3a3a3" stroke-width="1.0"/>
<line x1="367.08" y1="199.42" x2="368.20" y2="199.42" stroke="#a3a3a3" stroke-width="1.0"/>
<line x1="367.08" y1="182.74" x2="368.20" y2="182.74" stroke="#a3a3a3" stroke-width="1.0"/>
<line x1="368.20" y1="257.80" x2="442.70" y2="257.80" stroke="#a3a3a3" stroke-width="1.0"/>
<line x1="386.90" y1="257.80" x2="386.90" y2="259.40" stroke="#a3a3a3" stroke-width="1.0"/>
<line x1="424.00" y1="257.80" x2="424.00" y2="259.40" stroke="#a3a3a3" stroke-width="1.0"/>
<rect x="376.10" y="208.30" width="21.60" height="49.50" fill="#000" stroke="none" stroke-width="0.8"/>
<line x1="386.90" y1="194.70" x2="386.90" y2="208.30" stroke="#444" stroke-width="0.8"/>
<line x1="381.90" y1="194.70" x2="391.90" y2="194.70" stroke="#444" stroke-width="0.8"/>
<rect x="413.60" y="200.50" width="20.80" height="57.30" fill="#fff" stroke="#4a4a4a" stroke-width="0.8"/>
<line x1="424.00" y1="188.30" x2="424.00" y2="212.40" stroke="#444" stroke-width="0.8"/>
<line x1="419.00" y1="188.30" x2="429.00" y2="188.30" stroke="#444" stroke-width="0.8"/>
<line x1="419.00" y1="212.40" x2="429.00" y2="212.40" stroke="#444" stroke-width="0.8"/>
<text x="387.20" y="267.60" font-size="7.3" font-weight="normal" text-anchor="middle" font-style="italic" fill="#111" stroke="#111" stroke-width="0.1">+/+</text>
<text x="424.00" y="267.60" font-size="7.3" font-weight="normal" text-anchor="middle" font-style="italic" fill="#111" stroke="#111" stroke-width="0.1">Ddo/+</text>
<text x="354.90" y="216.10" font-size="7.45" font-weight="normal" text-anchor="middle" fill="#111" stroke="#111" stroke-width="0.1" transform="rotate(-90 354.90 216.10)">Number of buried marbles</text>
<text x="553.70" y="146.80" font-size="9.7" font-weight="bold" text-anchor="middle" fill="#111">Prepulse inhibition</text>
<text x="472.30" y="162.60" font-size="13.5" font-weight="bold" text-anchor="start" fill="#111">h</text>
<line x1="507.00" y1="174.40" x2="507.00" y2="257.80" stroke="#a3a3a3" stroke-width="1.0"/>
<line x1="505.40" y1="257.80" x2="507.00" y2="257.80" stroke="#a3a3a3" stroke-width="1.0"/>
<text x="504.10" y="259.85" font-size="5.7" font-weight="normal" text-anchor="end" fill="#111" stroke="#111" stroke-width="0.1">0</text>
<line x1="505.40" y1="236.95" x2="507.00" y2="236.95" stroke="#a3a3a3" stroke-width="1.0"/>
<text x="504.10" y="239.00" font-size="5.7" font-weight="normal" text-anchor="end" fill="#111" stroke="#111" stroke-width="0.1">20</text>
<line x1="505.40" y1="216.10" x2="507.00" y2="216.10" stroke="#a3a3a3" stroke-width="1.0"/>
<text x="504.10" y="218.15" font-size="5.7" font-weight="normal" text-anchor="end" fill="#111" stroke="#111" stroke-width="0.1">40</text>
<line x1="505.40" y1="195.25" x2="507.00" y2="195.25" stroke="#a3a3a3" stroke-width="1.0"/>
<text x="504.10" y="197.30" font-size="5.7" font-weight="normal" text-anchor="end" fill="#111" stroke="#111" stroke-width="0.1">60</text>
<line x1="505.40" y1="174.40" x2="507.00" y2="174.40" stroke="#a3a3a3" stroke-width="1.0"/>
<text x="504.10" y="176.45" font-size="5.7" font-weight="normal" text-anchor="end" fill="#111" stroke="#111" stroke-width="0.1">80</text>
<line x1="505.88" y1="247.38" x2="507.00" y2="247.38" stroke="#a3a3a3" stroke-width="1.0"/>
<line x1="505.88" y1="226.53" x2="507.00" y2="226.53" stroke="#a3a3a3" stroke-width="1.0"/>
<line x1="505.88" y1="205.68" x2="507.00" y2="205.68" stroke="#a3a3a3" stroke-width="1.0"/>
<line x1="505.88" y1="184.83" x2="507.00" y2="184.83" stroke="#a3a3a3" stroke-width="1.0"/>
<line x1="507.00" y1="257.80" x2="612.20" y2="257.80" stroke="#a3a3a3" stroke-width="1.0"/>
<line x1="516.10" y1="257.80" x2="516.10" y2="259.40" stroke="#a3a3a3" stroke-width="1.0"/>
<rect x="509.30" y="256.60" width="3.80" height="1.20" fill="#000" stroke="none" stroke-width="0.8"/>
<line x1="511.20" y1="240.90" x2="511.20" y2="256.60" stroke="#555" stroke-width="0.55"/>
<line x1="510.40" y1="240.90" x2="512.00" y2="240.90" stroke="#555" stroke-width="0.55"/>
<rect x="514.50" y="238.70" width="3.30" height="19.10" fill="#fff" stroke="#4a4a4a" stroke-width="0.6"/>
<rect x="514.60" y="238.70" width="3.10" height="14.40" fill="#c9c9c9" stroke="none" stroke-width="0.8"/>
<line x1="516.15" y1="224.30" x2="516.15" y2="238.40" stroke="#666" stroke-width="0.55"/>
<line x1="515.35" y1="224.30" x2="516.95" y2="224.30" stroke="#666" stroke-width="0.55"/>
<text x="515.90" y="265.60" font-size="5.9" font-weight="normal" text-anchor="middle" fill="#111" stroke="#111" stroke-width="0.1">70</text>
<line x1="533.50" y1="257.80" x2="533.50" y2="259.40" stroke="#a3a3a3" stroke-width="1.0"/>
<rect x="526.70" y="227.60" width="3.80" height="30.20" fill="#000" stroke="none" stroke-width="0.8"/>
<line x1="528.60" y1="213.20" x2="528.60" y2="227.60" stroke="#555" stroke-width="0.55"/>
<line x1="527.80" y1="213.20" x2="529.40" y2="213.20" stroke="#555" stroke-width="0.55"/>
<rect x="531.90" y="233.50" width="3.30" height="24.30" fill="#fff" stroke="#4a4a4a" stroke-width="0.6"/>
<rect x="532.00" y="233.50" width="3.10" height="14.50" fill="#c9c9c9" stroke="none" stroke-width="0.8"/>
<line x1="533.55" y1="219.20" x2="533.55" y2="233.20" stroke="#666" stroke-width="0.55"/>
<line x1="532.75" y1="219.20" x2="534.35" y2="219.20" stroke="#666" stroke-width="0.55"/>
<text x="533.30" y="265.60" font-size="5.9" font-weight="normal" text-anchor="middle" fill="#111" stroke="#111" stroke-width="0.1">74</text>
<line x1="550.90" y1="257.80" x2="550.90" y2="259.40" stroke="#a3a3a3" stroke-width="1.0"/>
<rect x="544.10" y="216.30" width="3.80" height="41.50" fill="#000" stroke="none" stroke-width="0.8"/>
<line x1="546.00" y1="207.10" x2="546.00" y2="216.30" stroke="#555" stroke-width="0.55"/>
<line x1="545.20" y1="207.10" x2="546.80" y2="207.10" stroke="#555" stroke-width="0.55"/>
<rect x="549.30" y="211.50" width="3.30" height="46.30" fill="#fff" stroke="#4a4a4a" stroke-width="0.6"/>
<rect x="549.40" y="211.50" width="3.10" height="9.70" fill="#c9c9c9" stroke="none" stroke-width="0.8"/>
<line x1="550.95" y1="202.20" x2="550.95" y2="211.20" stroke="#666" stroke-width="0.55"/>
<line x1="550.15" y1="202.20" x2="551.75" y2="202.20" stroke="#666" stroke-width="0.55"/>
<text x="550.70" y="265.60" font-size="5.9" font-weight="normal" text-anchor="middle" fill="#111" stroke="#111" stroke-width="0.1">78</text>
<line x1="568.40" y1="257.80" x2="568.40" y2="259.40" stroke="#a3a3a3" stroke-width="1.0"/>
<rect x="561.60" y="199.00" width="3.80" height="58.80" fill="#000" stroke="none" stroke-width="0.8"/>
<line x1="563.50" y1="193.90" x2="563.50" y2="199.00" stroke="#555" stroke-width="0.55"/>
<line x1="562.70" y1="193.90" x2="564.30" y2="193.90" stroke="#555" stroke-width="0.55"/>
<rect x="566.80" y="227.30" width="3.30" height="30.50" fill="#fff" stroke="#4a4a4a" stroke-width="0.6"/>
<rect x="566.90" y="227.30" width="3.10" height="16.00" fill="#c9c9c9" stroke="none" stroke-width="0.8"/>
<line x1="568.45" y1="211.00" x2="568.45" y2="227.00" stroke="#666" stroke-width="0.55"/>
<line x1="567.65" y1="211.00" x2="569.25" y2="211.00" stroke="#666" stroke-width="0.55"/>
<text x="568.20" y="265.60" font-size="5.9" font-weight="normal" text-anchor="middle" fill="#111" stroke="#111" stroke-width="0.1">82</text>
<line x1="586.00" y1="257.80" x2="586.00" y2="259.40" stroke="#a3a3a3" stroke-width="1.0"/>
<rect x="579.20" y="202.50" width="3.80" height="55.30" fill="#000" stroke="none" stroke-width="0.8"/>
<line x1="581.10" y1="189.30" x2="581.10" y2="202.50" stroke="#555" stroke-width="0.55"/>
<line x1="580.30" y1="189.30" x2="581.90" y2="189.30" stroke="#555" stroke-width="0.55"/>
<rect x="584.40" y="201.30" width="3.30" height="56.50" fill="#fff" stroke="#4a4a4a" stroke-width="0.6"/>
<rect x="584.50" y="201.30" width="3.10" height="11.50" fill="#c9c9c9" stroke="none" stroke-width="0.8"/>
<line x1="586.05" y1="190.30" x2="586.05" y2="201.00" stroke="#666" stroke-width="0.55"/>
<line x1="585.25" y1="190.30" x2="586.85" y2="190.30" stroke="#666" stroke-width="0.55"/>
<text x="585.80" y="265.60" font-size="5.9" font-weight="normal" text-anchor="middle" fill="#111" stroke="#111" stroke-width="0.1">86</text>
<line x1="603.60" y1="257.80" x2="603.60" y2="259.40" stroke="#a3a3a3" stroke-width="1.0"/>
<rect x="596.80" y="196.90" width="3.80" height="60.90" fill="#000" stroke="none" stroke-width="0.8"/>
<line x1="598.70" y1="189.30" x2="598.70" y2="196.90" stroke="#555" stroke-width="0.55"/>
<line x1="597.90" y1="189.30" x2="599.50" y2="189.30" stroke="#555" stroke-width="0.55"/>
<rect x="602.00" y="203.60" width="3.30" height="54.20" fill="#fff" stroke="#4a4a4a" stroke-width="0.6"/>
<rect x="602.10" y="203.60" width="3.10" height="12.20" fill="#c9c9c9" stroke="none" stroke-width="0.8"/>
<line x1="603.65" y1="191.10" x2="603.65" y2="203.30" stroke="#666" stroke-width="0.55"/>
<line x1="602.85" y1="191.10" x2="604.45" y2="191.10" stroke="#666" stroke-width="0.55"/>
<text x="603.40" y="265.60" font-size="5.9" font-weight="normal" text-anchor="middle" fill="#111" stroke="#111" stroke-width="0.1">90</text>
<text x="559.30" y="273.60" font-size="6.7" font-weight="normal" text-anchor="middle" fill="#111" stroke="#111" stroke-width="0.1">Prepulse Sound Level  (dB)</text>
<text x="490.00" y="214.60" font-size="9.0" font-weight="normal" text-anchor="middle" fill="#111" stroke="#111" stroke-width="0.1" transform="rotate(-90 490.00 214.60)">Prepulse inhibition (%)</text>
<rect x="513.90" y="162.30" width="7.30" height="4.80" fill="#000" stroke="none" stroke-width="0.8"/>
<text x="525.30" y="167.20" font-size="6.8" font-weight="normal" text-anchor="start" fill="#111" stroke="#111" stroke-width="0.1">+/+</text>
<rect x="541.20" y="162.60" width="6.80" height="4.30" fill="#fff" stroke="#000" stroke-width="0.6"/>
<text x="552.60" y="167.20" font-size="6.8" font-weight="normal" text-anchor="start" font-style="italic" fill="#111" stroke="#111" stroke-width="0.1">Ddo/+</text>
<text x="100.80" y="295.10" font-size="9.7" font-weight="bold" text-anchor="middle" fill="#111">Social interaction</text>
<text x="4.30" y="308.60" font-size="13.5" font-weight="bold" text-anchor="start" fill="#111">i</text>
<path d="M12.3,310.2 L16.0,343.5 Q16.5,346.6 19.5,346.6 L126.6,346.6 Q129.6,346.6 130.0,343.5 L132.8,310.2 Z" fill="#f1f5fb"/>
<path d="M12.3,310.2 L16.0,343.5 Q16.5,346.6 19.5,346.6 L126.6,346.6 Q129.6,346.6 130.0,343.5 L132.8,310.2" fill="none" stroke="#a9b4c2" stroke-width="0.8"/>
<path d="M17.2,340.6 Q30,339.6 45,340.3 Q60,339.2 75,340.0 Q95,339.5 110,340.5 Q120,339.2 128.8,339.8 L128.6,344.9 L17.6,344.9 Z" fill="#c5a57c"/>
<path d="M54.5,338.6 Q45,336.5 36,337.4 Q33.5,338 34.2,340.5" fill="none" stroke="#c4908a" stroke-width="0.7"/>
<path d="M54.5,339.6 Q53.2,333 56.5,328.5 Q60,325.2 65.5,325.2 Q69,323.9 72.5,324.0 L75.2,325.2 Q74.2,327.2 72.8,328.8 Q72.6,333 70.8,337 Q68,340.2 62.5,340.6 Q57,340.9 54.5,339.6 Z" fill="#4a4441"/>
<ellipse cx="65.6" cy="327.1" rx="1.7" ry="1.3" fill="#c48f88"/>
<path d="M70.5,336.2 l1.6,0.4" stroke="#c4908a" stroke-width="0.8"/>
<path d="M96.0,327.4 Q101,325.5 105.5,324.6 Q107.5,325.2 104.5,328.6" fill="none" stroke="#c4908a" stroke-width="0.7"/>
<path d="M76.0,325.2 Q78,322.5 80.2,321.6 L81.0,319.5 L82.5,321.3 Q86,320 90.5,321.6 Q96.5,323.5 96.5,329 Q96.3,334.5 92,336.2 L91.6,338.6 L90.2,338.6 L89.8,336.4 Q85.5,336.2 83.2,334.8 L82.5,337.2 L80.9,337.2 L81.4,333.6 Q79.4,330.6 79.2,327.6 Q77.2,327.1 76.0,325.2 Z" fill="#4a4441"/>
<ellipse cx="87.2" cy="321.6" rx="2.2" ry="2.0" fill="#c48f88"/>
<ellipse cx="80.8" cy="324.6" rx="0.5" ry="0.4" fill="#222"/>
<line x1="25.30" y1="374.30" x2="25.30" y2="457.60" stroke="#8a8a8a" stroke-width="1.0"/>
<line x1="23.70" y1="457.60" x2="25.30" y2="457.60" stroke="#8a8a8a" stroke-width="1.0"/>
<text x="22.40" y="459.90" font-size="6.4" font-weight="normal" text-anchor="end" fill="#111" stroke="#111" stroke-width="0.1">0</text>
<line x1="23.70" y1="436.78" x2="25.30" y2="436.78" stroke="#8a8a8a" stroke-width="1.0"/>
<text x="22.40" y="439.08" font-size="6.4" font-weight="normal" text-anchor="end" fill="#111" stroke="#111" stroke-width="0.1">20</text>
<line x1="23.70" y1="415.95" x2="25.30" y2="415.95" stroke="#8a8a8a" stroke-width="1.0"/>
<text x="22.40" y="418.25" font-size="6.4" font-weight="normal" text-anchor="end" fill="#111" stroke="#111" stroke-width="0.1">40</text>
<line x1="23.70" y1="395.12" x2="25.30" y2="395.12" stroke="#8a8a8a" stroke-width="1.0"/>
<text x="22.40" y="397.43" font-size="6.4" font-weight="normal" text-anchor="end" fill="#111" stroke="#111" stroke-width="0.1">60</text>
<line x1="23.70" y1="374.30" x2="25.30" y2="374.30" stroke="#8a8a8a" stroke-width="1.0"/>
<text x="22.40" y="376.60" font-size="6.4" font-weight="normal" text-anchor="end" fill="#111" stroke="#111" stroke-width="0.1">80</text>
<line x1="24.18" y1="447.19" x2="25.30" y2="447.19" stroke="#8a8a8a" stroke-width="1.0"/>
<line x1="24.18" y1="426.36" x2="25.30" y2="426.36" stroke="#8a8a8a" stroke-width="1.0"/>
<line x1="24.18" y1="405.54" x2="25.30" y2="405.54" stroke="#8a8a8a" stroke-width="1.0"/>
<line x1="24.18" y1="384.71" x2="25.30" y2="384.71" stroke="#8a8a8a" stroke-width="1.0"/>
<line x1="25.30" y1="457.60" x2="130.80" y2="457.60" stroke="#8a8a8a" stroke-width="1.0"/>
<line x1="35.10" y1="457.60" x2="35.10" y2="459.20" stroke="#8a8a8a" stroke-width="1.0"/>
<line x1="61.20" y1="457.60" x2="61.20" y2="459.20" stroke="#8a8a8a" stroke-width="1.0"/>
<line x1="87.40" y1="457.60" x2="87.40" y2="459.20" stroke="#8a8a8a" stroke-width="1.0"/>
<line x1="113.90" y1="457.60" x2="113.90" y2="459.20" stroke="#8a8a8a" stroke-width="1.0"/>
<rect x="28.20" y="397.50" width="6.90" height="60.10" fill="#000" stroke="none" stroke-width="0.8"/>
<line x1="31.60" y1="380.60" x2="31.60" y2="397.50" stroke="#444" stroke-width="0.8"/>
<line x1="28.60" y1="380.60" x2="34.60" y2="380.60" stroke="#444" stroke-width="0.8"/>
<rect x="35.50" y="401.50" width="5.70" height="56.10" fill="#fff" stroke="#4a4a4a" stroke-width="0.8"/>
<line x1="38.30" y1="393.60" x2="38.30" y2="408.50" stroke="#444" stroke-width="0.8"/>
<line x1="35.30" y1="393.60" x2="41.30" y2="393.60" stroke="#444" stroke-width="0.8"/>
<line x1="35.30" y1="408.50" x2="41.30" y2="408.50" stroke="#444" stroke-width="0.8"/>
<rect x="54.40" y="446.30" width="6.80" height="11.30" fill="#000" stroke="none" stroke-width="0.8"/>
<line x1="57.80" y1="441.80" x2="57.80" y2="446.30" stroke="#444" stroke-width="0.8"/>
<line x1="54.80" y1="441.80" x2="60.80" y2="441.80" stroke="#444" stroke-width="0.8"/>
<rect x="61.60" y="446.10" width="5.80" height="11.50" fill="#fff" stroke="#4a4a4a" stroke-width="0.8"/>
<line x1="64.50" y1="443.60" x2="64.50" y2="447.40" stroke="#444" stroke-width="0.8"/>
<line x1="61.50" y1="443.60" x2="67.50" y2="443.60" stroke="#444" stroke-width="0.8"/>
<line x1="61.50" y1="447.40" x2="67.50" y2="447.40" stroke="#444" stroke-width="0.8"/>
<rect x="80.90" y="456.40" width="6.50" height="1.20" fill="#000" stroke="none" stroke-width="0.8"/>
<rect x="87.80" y="455.90" width="6.00" height="1.70" fill="#fff" stroke="#4a4a4a" stroke-width="0.8"/>
<line x1="90.80" y1="454.60" x2="90.80" y2="456.00" stroke="#444" stroke-width="0.8"/>
<line x1="87.80" y1="454.60" x2="93.80" y2="454.60" stroke="#444" stroke-width="0.8"/>
<line x1="87.80" y1="456.00" x2="93.80" y2="456.00" stroke="#444" stroke-width="0.8"/>
<rect x="107.40" y="457.30" width="6.50" height="0.30" fill="#000" stroke="none" stroke-width="0.8"/>
<rect x="114.30" y="448.70" width="5.70" height="8.90" fill="#fff" stroke="#4a4a4a" stroke-width="0.8"/>
<line x1="117.20" y1="442.40" x2="117.20" y2="456.00" stroke="#444" stroke-width="0.8"/>
<line x1="114.20" y1="442.40" x2="120.20" y2="442.40" stroke="#444" stroke-width="0.8"/>
<line x1="114.20" y1="456.00" x2="120.20" y2="456.00" stroke="#444" stroke-width="0.8"/>
<text x="40.50" y="464.60" font-size="5.8" font-weight="normal" text-anchor="end" fill="#111" stroke="#111" stroke-width="0.1" transform="rotate(-45 40.50 464.60)">Sniffing</text>
<text x="66.60" y="464.60" font-size="5.8" font-weight="normal" text-anchor="end" fill="#111" stroke="#111" stroke-width="0.1" transform="rotate(-45 66.60 464.60)">Genital Grooming</text>
<text x="92.80" y="464.60" font-size="5.8" font-weight="normal" text-anchor="end" fill="#111" stroke="#111" stroke-width="0.1" transform="rotate(-45 92.80 464.60)">Following</text>
<text x="119.30" y="464.60" font-size="5.8" font-weight="normal" text-anchor="end" fill="#111" stroke="#111" stroke-width="0.1" transform="rotate(-45 119.30 464.60)">Aggressive Behaviour</text>
<text x="7.20" y="415.00" font-size="8.65" font-weight="normal" text-anchor="middle" fill="#111" stroke="#111" stroke-width="0.1" transform="rotate(-90 7.20 415.00)">Interaction time (s)</text>
<rect x="29.50" y="363.00" width="8.00" height="5.80" fill="#000" stroke="none" stroke-width="0.8"/>
<text x="41.00" y="368.80" font-size="7.5" font-weight="normal" text-anchor="start" fill="#111" stroke="#111" stroke-width="0.1">+/+</text>
<rect x="56.70" y="363.30" width="7.40" height="5.20" fill="#fff" stroke="#4a4a4a" stroke-width="0.7"/>
<text x="68.40" y="368.80" font-size="7.5" font-weight="normal" text-anchor="start" font-style="italic" fill="#111" stroke="#111" stroke-width="0.1">Ddo/+</text>
<text x="289.50" y="294.90" font-size="9.7" font-weight="bold" text-anchor="middle" fill="#111">Sociability</text>
<text x="204.80" y="308.90" font-size="13.5" font-weight="bold" text-anchor="start" fill="#111">j</text>
<polygon points="216.0,306.0 370.0,306.0 384.7,314.3 384.7,349.90000000000003 230.7,349.90000000000003 216.0,337.0" fill="#f4f8f9"/>
<polygon points="216.0,306.0 230.7,314.3 230.7,349.90000000000003 216.0,337.0" fill="#f1f7f9"/>
<polygon points="216.0,337.0 370.0,337.0 384.7,349.90000000000003 230.7,349.90000000000003" fill="#f9fbfc"/>
<line x1="216.00" y1="306.00" x2="370.00" y2="306.00" stroke="#cfdfe3" stroke-width="0.7"/>
<line x1="216.00" y1="306.00" x2="216.00" y2="337.00" stroke="#cfdfe3" stroke-width="0.7"/>
<line x1="216.00" y1="337.00" x2="370.00" y2="337.00" stroke="#cfdfe3" stroke-width="0.7"/>
<line x1="370.00" y1="306.00" x2="370.00" y2="337.00" stroke="#cfdfe3" stroke-width="0.7"/>
<line x1="230.70" y1="314.30" x2="384.70" y2="314.30" stroke="#cfdfe3" stroke-width="0.7"/>
<line x1="230.70" y1="349.90" x2="384.70" y2="349.90" stroke="#cfdfe3" stroke-width="0.7"/>
<line x1="230.70" y1="314.30" x2="230.70" y2="349.90" stroke="#cfdfe3" stroke-width="0.7"/>
<line x1="384.70" y1="314.30" x2="384.70" y2="349.90" stroke="#cfdfe3" stroke-width="0.7"/>
<line x1="216.00" y1="306.00" x2="230.70" y2="314.30" stroke="#cfdfe3" stroke-width="0.7"/>
<line x1="216.00" y1="337.00" x2="230.70" y2="349.90" stroke="#cfdfe3" stroke-width="0.7"/>
<line x1="370.00" y1="306.00" x2="384.70" y2="314.30" stroke="#cfdfe3" stroke-width="0.7"/>
<line x1="370.00" y1="337.00" x2="384.70" y2="349.90" stroke="#cfdfe3" stroke-width="0.7"/>
<line x1="267.40" y1="306.00" x2="282.10" y2="314.30" stroke="#cfdfe3" stroke-width="0.7"/>
<line x1="267.40" y1="306.00" x2="267.40" y2="337.00" stroke="#cfdfe3" stroke-width="0.7"/>
<line x1="282.10" y1="314.30" x2="282.10" y2="349.90" stroke="#cfdfe3" stroke-width="0.7"/>
<line x1="267.40" y1="337.00" x2="282.10" y2="349.90" stroke="#cfdfe3" stroke-width="0.7"/>
<line x1="318.80" y1="306.00" x2="333.50" y2="314.30" stroke="#cfdfe3" stroke-width="0.7"/>
<line x1="318.80" y1="306.00" x2="318.80" y2="337.00" stroke="#cfdfe3" stroke-width="0.7"/>
<line x1="333.50" y1="314.30" x2="333.50" y2="349.90" stroke="#cfdfe3" stroke-width="0.7"/>
<line x1="318.80" y1="337.00" x2="333.50" y2="349.90" stroke="#cfdfe3" stroke-width="0.7"/>
<polygon points="271.6,333.0 275.6,335.6 275.6,344.0 271.6,341.4" fill="#fbfdfe" stroke="#b9c9d0" stroke-width="0.6"/>
<polygon points="322.4,333.4 326.4,336.0 326.4,344.4 322.4,341.79999999999995" fill="#fbfdfe" stroke="#b9c9d0" stroke-width="0.6"/>
<rect x="242.00" y="324.50" width="12.10" height="15.70" fill="url(#cyl)"/>
<line x1="246.45" y1="325.20" x2="246.45" y2="339.50" stroke="#e4eaeb" stroke-width="0.6"/>
<line x1="249.85" y1="325.20" x2="249.85" y2="339.50" stroke="#e4eaeb" stroke-width="0.6"/>
<ellipse cx="248.05" cy="324.80" rx="6.05" ry="1.5" fill="#6b7c82"/>
<ellipse cx="248.05" cy="340.00" rx="6.05" ry="1.4" fill="#64757a"/>
<rect x="348.00" y="324.60" width="11.90" height="15.40" fill="url(#cyl)"/>
<line x1="352.35" y1="325.30" x2="352.35" y2="339.30" stroke="#e4eaeb" stroke-width="0.6"/>
<line x1="355.75" y1="325.30" x2="355.75" y2="339.30" stroke="#e4eaeb" stroke-width="0.6"/>
<ellipse cx="354.55" cy="334.82" rx="4.2" ry="1.2" fill="#574b46" transform="rotate(58 354.55 334.82)"/>
<ellipse cx="352.25" cy="331.22" rx="1.1" ry="0.8" fill="#574b46"/>
<ellipse cx="353.95" cy="324.90" rx="5.95" ry="1.5" fill="#6b7c82"/>
<ellipse cx="353.95" cy="339.80" rx="5.95" ry="1.4" fill="#64757a"/>
<path d="M297.5,334.0 Q282,318.5 264.2,332.4" fill="none" stroke="#78b45a" stroke-width="0.7" stroke-dasharray="1.2 1"/>
<polygon points="264.20,332.40 265.26,330.18 266.61,331.91" fill="#78b45a"/>
<path d="M302.5,333.0 Q320.5,320.0 337.8,331.9" fill="none" stroke="#4a8fd0" stroke-width="0.7" stroke-dasharray="1.2 1"/>
<polygon points="337.80,331.90 335.36,331.56 336.61,329.75" fill="#4a8fd0"/>
<text x="291.60" y="325.80" font-size="6.2" font-weight="bold" text-anchor="middle" fill="#5f9e3c">?</text>
<text x="312.60" y="325.80" font-size="6.2" font-weight="bold" text-anchor="middle" fill="#3f7fc4">?</text>
<g transform="translate(302.4,340.4) scale(1.0)"><path d="M6.4,-1.2 Q9.5,-2.6 12.2,-2.7 Q13.6,-2.2 12.6,-1.0 Q11.8,-0.2 11.0,0.2" fill="none" stroke="#c4928c" stroke-width="0.8"/><rect x="-3.9" y="3.0" width="1.3" height="3.0" fill="#c4928c"/><rect x="2.2" y="3.6" width="1.3" height="3.4" fill="#c4928c"/><ellipse cx="0.6" cy="0.2" rx="6.6" ry="4.4" fill="#5e4c45"/><path d="M-7.2,-1.2 Q-7.6,-3.2 -5.6,-4.2 L-4.4,-5.8 L-3.4,-4.4 Q-1,-4.2 0,-2 L-2,2 Q-6,1.8 -7.2,-1.2 Z" fill="#5e4c45"/><ellipse cx="0.8" cy="-3.4" rx="1.7" ry="2.0" fill="#c4928c"/><circle cx="-7.3" cy="-1.0" r="0.6" fill="#c4928c"/></g>
<text x="546.00" y="295.10" font-size="9.7" font-weight="bold" text-anchor="middle" fill="#111">Social Novelty</text>
<text x="447.60" y="309.30" font-size="13.5" font-weight="bold" text-anchor="start" fill="#111">k</text>
<polygon points="465.6,306.6 617.6,306.6 632.1,315.0 632.1,350.2 480.1,350.2 465.6,337.20000000000005" fill="#f4f8f9"/>
<polygon points="465.6,306.6 480.1,315.0 480.1,350.2 465.6,337.20000000000005" fill="#f1f7f9"/>
<polygon points="465.6,337.20000000000005 617.6,337.20000000000005 632.1,350.2 480.1,350.2" fill="#f9fbfc"/>
<line x1="465.60" y1="306.60" x2="617.60" y2="306.60" stroke="#cfdfe3" stroke-width="0.7"/>
<line x1="465.60" y1="306.60" x2="465.60" y2="337.20" stroke="#cfdfe3" stroke-width="0.7"/>
<line x1="465.60" y1="337.20" x2="617.60" y2="337.20" stroke="#cfdfe3" stroke-width="0.7"/>
<line x1="617.60" y1="306.60" x2="617.60" y2="337.20" stroke="#cfdfe3" stroke-width="0.7"/>
<line x1="480.10" y1="315.00" x2="632.10" y2="315.00" stroke="#cfdfe3" stroke-width="0.7"/>
<line x1="480.10" y1="350.20" x2="632.10" y2="350.20" stroke="#cfdfe3" stroke-width="0.7"/>
<line x1="480.10" y1="315.00" x2="480.10" y2="350.20" stroke="#cfdfe3" stroke-width="0.7"/>
<line x1="632.10" y1="315.00" x2="632.10" y2="350.20" stroke="#cfdfe3" stroke-width="0.7"/>
<line x1="465.60" y1="306.60" x2="480.10" y2="315.00" stroke="#cfdfe3" stroke-width="0.7"/>
<line x1="465.60" y1="337.20" x2="480.10" y2="350.20" stroke="#cfdfe3" stroke-width="0.7"/>
<line x1="617.60" y1="306.60" x2="632.10" y2="315.00" stroke="#cfdfe3" stroke-width="0.7"/>
<line x1="617.60" y1="337.20" x2="632.10" y2="350.20" stroke="#cfdfe3" stroke-width="0.7"/>
<line x1="515.50" y1="306.60" x2="530.00" y2="315.00" stroke="#cfdfe3" stroke-width="0.7"/>
<line x1="515.50" y1="306.60" x2="515.50" y2="337.20" stroke="#cfdfe3" stroke-width="0.7"/>
<line x1="530.00" y1="315.00" x2="530.00" y2="350.20" stroke="#cfdfe3" stroke-width="0.7"/>
<line x1="515.50" y1="337.20" x2="530.00" y2="350.20" stroke="#cfdfe3" stroke-width="0.7"/>
<line x1="566.60" y1="306.60" x2="581.10" y2="315.00" stroke="#cfdfe3" stroke-width="0.7"/>
<line x1="566.60" y1="306.60" x2="566.60" y2="337.20" stroke="#cfdfe3" stroke-width="0.7"/>
<line x1="581.10" y1="315.00" x2="581.10" y2="350.20" stroke="#cfdfe3" stroke-width="0.7"/>
<line x1="566.60" y1="337.20" x2="581.10" y2="350.20" stroke="#cfdfe3" stroke-width="0.7"/>
<polygon points="521.0,333.6 525.0,336.20000000000005 525.0,344.6 521.0,342.0" fill="#fbfdfe" stroke="#b9c9d0" stroke-width="0.6"/>
<polygon points="570.6,333.6 574.6,336.20000000000005 574.6,344.6 570.6,342.0" fill="#fbfdfe" stroke="#b9c9d0" stroke-width="0.6"/>
<rect x="489.90" y="325.30" width="11.90" height="14.90" fill="url(#cylc)"/>
<ellipse cx="495.85" cy="336.25" rx="2.0" ry="3.8" fill="#6a574e" transform="rotate(18 495.85 336.25)"/>
<ellipse cx="497.65" cy="332.23" rx="1.2" ry="1.7" fill="#6a574e"/>
<line x1="490.70" y1="326.00" x2="490.70" y2="339.50" stroke="#7d8f94" stroke-width="0.6"/>
<line x1="493.27" y1="326.00" x2="493.27" y2="339.50" stroke="#7d8f94" stroke-width="0.6"/>
<line x1="495.85" y1="326.00" x2="495.85" y2="339.50" stroke="#7d8f94" stroke-width="0.6"/>
<line x1="498.43" y1="326.00" x2="498.43" y2="339.50" stroke="#7d8f94" stroke-width="0.6"/>
<line x1="501.00" y1="326.00" x2="501.00" y2="339.50" stroke="#7d8f94" stroke-width="0.6"/>
<ellipse cx="495.85" cy="325.60" rx="5.95" ry="1.5" fill="#6b7c82"/>
<ellipse cx="495.85" cy="340.00" rx="5.95" ry="1.4" fill="#64757a"/>
<rect x="595.80" y="325.30" width="12.00" height="15.10" fill="url(#cylc)"/>
<ellipse cx="601.80" cy="336.39" rx="2.0" ry="3.8" fill="#6a574e" transform="rotate(18 601.80 336.39)"/>
<ellipse cx="603.60" cy="332.32" rx="1.2" ry="1.7" fill="#6a574e"/>
<line x1="596.60" y1="326.00" x2="596.60" y2="339.70" stroke="#7d8f94" stroke-width="0.6"/>
<line x1="599.20" y1="326.00" x2="599.20" y2="339.70" stroke="#7d8f94" stroke-width="0.6"/>
<line x1="601.80" y1="326.00" x2="601.80" y2="339.70" stroke="#7d8f94" stroke-width="0.6"/>
<line x1="604.40" y1="326.00" x2="604.40" y2="339.70" stroke="#7d8f94" stroke-width="0.6"/>
<line x1="607.00" y1="326.00" x2="607.00" y2="339.70" stroke="#7d8f94" stroke-width="0.6"/>
<ellipse cx="601.80" cy="325.60" rx="6.00" ry="1.5" fill="#6b7c82"/>
<ellipse cx="601.80" cy="340.20" rx="6.00" ry="1.4" fill="#64757a"/>
<path d="M547.0,334.0 Q532,320.5 512.8,332.8" fill="none" stroke="#d0494a" stroke-width="0.7" stroke-dasharray="1.2 1"/>
<polygon points="512.80,332.80 514.06,330.69 515.25,332.54" fill="#d0494a"/>
<path d="M550.4,334.3 Q568.5,320.5 586.5,333.4" fill="none" stroke="#4a8fd0" stroke-width="0.7" stroke-dasharray="1.2 1"/>
<polygon points="586.50,333.40 584.07,333.01 585.35,331.22" fill="#4a8fd0"/>
<text x="539.60" y="325.80" font-size="6.2" font-weight="bold" text-anchor="middle" fill="#c83a3c">?</text>
<text x="560.50" y="325.80" font-size="6.2" font-weight="bold" text-anchor="middle" fill="#3f7fc4">?</text>
<g transform="translate(550.8,340.6) scale(1.0)"><path d="M6.4,-1.2 Q9.5,-2.6 12.2,-2.7 Q13.6,-2.2 12.6,-1.0 Q11.8,-0.2 11.0,0.2" fill="none" stroke="#c4928c" stroke-width="0.8"/><rect x="-3.9" y="3.0" width="1.3" height="3.0" fill="#c4928c"/><rect x="2.2" y="3.6" width="1.3" height="3.4" fill="#c4928c"/><ellipse cx="0.6" cy="0.2" rx="6.6" ry="4.4" fill="#5e4c45"/><path d="M-7.2,-1.2 Q-7.6,-3.2 -5.6,-4.2 L-4.4,-5.8 L-3.4,-4.4 Q-1,-4.2 0,-2 L-2,2 Q-6,1.8 -7.2,-1.2 Z" fill="#5e4c45"/><ellipse cx="0.8" cy="-3.4" rx="1.7" ry="2.0" fill="#c4928c"/><circle cx="-7.3" cy="-1.0" r="0.6" fill="#c4928c"/></g>
<line x1="182.40" y1="373.40" x2="182.40" y2="457.20" stroke="#8a8a8a" stroke-width="1.0"/>
<line x1="180.80" y1="457.20" x2="182.40" y2="457.20" stroke="#8a8a8a" stroke-width="1.0"/>
<text x="179.50" y="459.50" font-size="6.4" font-weight="normal" text-anchor="end" fill="#111" stroke="#111" stroke-width="0.1">0</text>
<line x1="180.80" y1="429.27" x2="182.40" y2="429.27" stroke="#8a8a8a" stroke-width="1.0"/>
<text x="179.50" y="431.57" font-size="6.4" font-weight="normal" text-anchor="end" fill="#111" stroke="#111" stroke-width="0.1">50</text>
<line x1="180.80" y1="401.33" x2="182.40" y2="401.33" stroke="#8a8a8a" stroke-width="1.0"/>
<text x="179.50" y="403.64" font-size="6.4" font-weight="normal" text-anchor="end" fill="#111" stroke="#111" stroke-width="0.1">100</text>
<line x1="180.80" y1="373.40" x2="182.40" y2="373.40" stroke="#8a8a8a" stroke-width="1.0"/>
<text x="179.50" y="375.70" font-size="6.4" font-weight="normal" text-anchor="end" fill="#111" stroke="#111" stroke-width="0.1">150</text>
<line x1="181.28" y1="443.23" x2="182.40" y2="443.23" stroke="#8a8a8a" stroke-width="1.0"/>
<line x1="181.28" y1="415.30" x2="182.40" y2="415.30" stroke="#8a8a8a" stroke-width="1.0"/>
<line x1="181.28" y1="387.37" x2="182.40" y2="387.37" stroke="#8a8a8a" stroke-width="1.0"/>
<line x1="182.40" y1="457.20" x2="288.50" y2="457.20" stroke="#8a8a8a" stroke-width="1.0"/>
<line x1="209.20" y1="457.20" x2="209.20" y2="458.80" stroke="#8a8a8a" stroke-width="1.0"/>
<line x1="262.00" y1="457.20" x2="262.00" y2="458.80" stroke="#8a8a8a" stroke-width="1.0"/>
<rect x="192.30" y="425.40" width="13.40" height="31.80" fill="#000" stroke="none" stroke-width="0.8"/>
<line x1="199.00" y1="422.40" x2="199.00" y2="425.40" stroke="#444" stroke-width="0.8"/>
<line x1="195.25" y1="422.40" x2="202.75" y2="422.40" stroke="#444" stroke-width="0.8"/>
<rect x="212.60" y="408.40" width="12.90" height="48.80" fill="#fff" stroke="#4a4a4a" stroke-width="0.8"/>
<line x1="219.00" y1="403.20" x2="219.00" y2="412.50" stroke="#444" stroke-width="0.8"/>
<line x1="215.25" y1="403.20" x2="222.75" y2="403.20" stroke="#444" stroke-width="0.8"/>
<line x1="215.25" y1="412.50" x2="222.75" y2="412.50" stroke="#444" stroke-width="0.8"/>
<rect x="245.30" y="420.80" width="13.40" height="36.40" fill="#000" stroke="none" stroke-width="0.8"/>
<line x1="252.00" y1="416.90" x2="252.00" y2="420.80" stroke="#444" stroke-width="0.8"/>
<line x1="248.25" y1="416.90" x2="255.75" y2="416.90" stroke="#444" stroke-width="0.8"/>
<rect x="265.90" y="410.00" width="12.20" height="47.20" fill="#fff" stroke="#4a4a4a" stroke-width="0.8"/>
<line x1="272.00" y1="407.00" x2="272.00" y2="412.10" stroke="#444" stroke-width="0.8"/>
<line x1="268.25" y1="407.00" x2="275.75" y2="407.00" stroke="#444" stroke-width="0.8"/>
<line x1="268.25" y1="412.10" x2="275.75" y2="412.10" stroke="#444" stroke-width="0.8"/>
<polyline points="198.8,406.6 198.8,391.8 219.6,391.8 219.6,393.7" fill="none" stroke="#777" stroke-width="0.7"/>
<polyline points="251.2,407.6 251.2,392.4 271.4,392.4 271.4,394.7" fill="none" stroke="#777" stroke-width="0.7"/>
<text x="210.60" y="393.20" font-size="13" font-weight="bold" text-anchor="middle" fill="#111">**</text>
<text x="261.10" y="393.20" font-size="13" font-weight="bold" text-anchor="middle" fill="#111">*</text>
<text x="209.60" y="466.80" font-size="8.3" font-weight="normal" text-anchor="middle" font-style="italic" fill="#111" stroke="#111" stroke-width="0.1">+/+</text>
<text x="261.80" y="466.80" font-size="8.3" font-weight="normal" text-anchor="middle" font-style="italic" fill="#111" stroke="#111" stroke-width="0.1">Ddo/+</text>
<text x="165.60" y="414.60" font-size="9.0" font-weight="normal" text-anchor="middle" fill="#111" stroke="#111" stroke-width="0.1" transform="rotate(-90 165.60 414.60)">Time spent sniffing (s)</text>
<rect x="186.00" y="363.90" width="8.00" height="6.00" fill="#000" stroke="none" stroke-width="0.8"/>
<text x="197.30" y="369.50" font-size="6.65" font-weight="normal" text-anchor="start" fill="#111" stroke="#111" stroke-width="0.1">Novel object</text>
<rect x="239.30" y="364.30" width="7.00" height="5.30" fill="#fff" stroke="#4a4a4a" stroke-width="0.7"/>
<text x="249.90" y="369.50" font-size="6.6" font-weight="normal" text-anchor="start" fill="#111" stroke="#111" stroke-width="0.1">Novel mouse</text>
<line x1="326.00" y1="374.30" x2="326.00" y2="457.40" stroke="#8a8a8a" stroke-width="1.0"/>
<line x1="324.40" y1="457.40" x2="326.00" y2="457.40" stroke="#8a8a8a" stroke-width="1.0"/>
<text x="323.10" y="459.70" font-size="6.4" font-weight="normal" text-anchor="end" fill="#111" stroke="#111" stroke-width="0.1">0</text>
<line x1="324.40" y1="436.62" x2="326.00" y2="436.62" stroke="#8a8a8a" stroke-width="1.0"/>
<text x="323.10" y="438.93" font-size="6.4" font-weight="normal" text-anchor="end" fill="#111" stroke="#111" stroke-width="0.1">20</text>
<line x1="324.40" y1="415.85" x2="326.00" y2="415.85" stroke="#8a8a8a" stroke-width="1.0"/>
<text x="323.10" y="418.15" font-size="6.4" font-weight="normal" text-anchor="end" fill="#111" stroke="#111" stroke-width="0.1">40</text>
<line x1="324.40" y1="395.07" x2="326.00" y2="395.07" stroke="#8a8a8a" stroke-width="1.0"/>
<text x="323.10" y="397.38" font-size="6.4" font-weight="normal" text-anchor="end" fill="#111" stroke="#111" stroke-width="0.1">60</text>
<line x1="324.40" y1="374.30" x2="326.00" y2="374.30" stroke="#8a8a8a" stroke-width="1.0"/>
<text x="323.10" y="376.60" font-size="6.4" font-weight="normal" text-anchor="end" fill="#111" stroke="#111" stroke-width="0.1">80</text>
<line x1="324.88" y1="447.01" x2="326.00" y2="447.01" stroke="#8a8a8a" stroke-width="1.0"/>
<line x1="324.88" y1="426.24" x2="326.00" y2="426.24" stroke="#8a8a8a" stroke-width="1.0"/>
<line x1="324.88" y1="405.46" x2="326.00" y2="405.46" stroke="#8a8a8a" stroke-width="1.0"/>
<line x1="324.88" y1="384.69" x2="326.00" y2="384.69" stroke="#8a8a8a" stroke-width="1.0"/>
<line x1="326.00" y1="457.40" x2="408.40" y2="457.40" stroke="#8a8a8a" stroke-width="1.0"/>
<line x1="346.90" y1="457.40" x2="346.90" y2="459.00" stroke="#8a8a8a" stroke-width="1.0"/>
<line x1="388.50" y1="457.40" x2="388.50" y2="459.00" stroke="#8a8a8a" stroke-width="1.0"/>
<rect x="335.00" y="394.40" width="23.70" height="63.00" fill="#000" stroke="none" stroke-width="0.8"/>
<line x1="346.90" y1="392.30" x2="346.90" y2="394.40" stroke="#444" stroke-width="0.8"/>
<line x1="342.15" y1="392.30" x2="351.65" y2="392.30" stroke="#444" stroke-width="0.8"/>
<rect x="376.60" y="397.90" width="23.70" height="59.50" fill="#fff" stroke="#4a4a4a" stroke-width="0.8"/>
<line x1="388.50" y1="395.20" x2="388.50" y2="400.30" stroke="#444" stroke-width="0.8"/>
<line x1="383.75" y1="395.20" x2="393.25" y2="395.20" stroke="#444" stroke-width="0.8"/>
<line x1="383.75" y1="400.30" x2="393.25" y2="400.30" stroke="#444" stroke-width="0.8"/>
<text x="347.10" y="467.80" font-size="8.3" font-weight="normal" text-anchor="middle" font-style="italic" fill="#111" stroke="#111" stroke-width="0.1">+/+</text>
<text x="389.10" y="467.80" font-size="8.3" font-weight="normal" text-anchor="middle" font-style="italic" fill="#111" stroke="#111" stroke-width="0.1">Ddo/+</text>
<text x="310.60" y="414.90" font-size="8.55" font-weight="normal" text-anchor="middle" fill="#111" stroke="#111" stroke-width="0.1" transform="rotate(-90 310.60 414.90)">Discrimination index (%)</text>
<line x1="446.20" y1="373.40" x2="446.20" y2="457.50" stroke="#8a8a8a" stroke-width="1.0"/>
<line x1="444.60" y1="457.50" x2="446.20" y2="457.50" stroke="#8a8a8a" stroke-width="1.0"/>
<text x="443.30" y="459.80" font-size="6.4" font-weight="normal" text-anchor="end" fill="#111" stroke="#111" stroke-width="0.1">0</text>
<line x1="444.60" y1="429.47" x2="446.20" y2="429.47" stroke="#8a8a8a" stroke-width="1.0"/>
<text x="443.30" y="431.77" font-size="6.4" font-weight="normal" text-anchor="end" fill="#111" stroke="#111" stroke-width="0.1">50</text>
<line x1="444.60" y1="401.43" x2="446.20" y2="401.43" stroke="#8a8a8a" stroke-width="1.0"/>
<text x="443.30" y="403.74" font-size="6.4" font-weight="normal" text-anchor="end" fill="#111" stroke="#111" stroke-width="0.1">100</text>
<line x1="444.60" y1="373.40" x2="446.20" y2="373.40" stroke="#8a8a8a" stroke-width="1.0"/>
<text x="443.30" y="375.70" font-size="6.4" font-weight="normal" text-anchor="end" fill="#111" stroke="#111" stroke-width="0.1">150</text>
<line x1="445.08" y1="443.48" x2="446.20" y2="443.48" stroke="#8a8a8a" stroke-width="1.0"/>
<line x1="445.08" y1="415.45" x2="446.20" y2="415.45" stroke="#8a8a8a" stroke-width="1.0"/>
<line x1="445.08" y1="387.42" x2="446.20" y2="387.42" stroke="#8a8a8a" stroke-width="1.0"/>
<line x1="446.20" y1="457.50" x2="552.20" y2="457.50" stroke="#8a8a8a" stroke-width="1.0"/>
<line x1="473.20" y1="457.50" x2="473.20" y2="459.10" stroke="#8a8a8a" stroke-width="1.0"/>
<line x1="526.00" y1="457.50" x2="526.00" y2="459.10" stroke="#8a8a8a" stroke-width="1.0"/>
<rect x="456.60" y="439.30" width="13.30" height="18.20" fill="#000" stroke="none" stroke-width="0.8"/>
<line x1="463.30" y1="437.30" x2="463.30" y2="439.30" stroke="#444" stroke-width="0.8"/>
<line x1="459.55" y1="437.30" x2="467.05" y2="437.30" stroke="#444" stroke-width="0.8"/>
<rect x="476.90" y="421.00" width="12.50" height="36.50" fill="#fff" stroke="#4a4a4a" stroke-width="0.8"/>
<line x1="483.20" y1="417.40" x2="483.20" y2="424.20" stroke="#444" stroke-width="0.8"/>
<line x1="479.45" y1="417.40" x2="486.95" y2="417.40" stroke="#444" stroke-width="0.8"/>
<line x1="479.45" y1="424.20" x2="486.95" y2="424.20" stroke="#444" stroke-width="0.8"/>
<rect x="509.40" y="435.80" width="13.40" height="21.70" fill="#000" stroke="none" stroke-width="0.8"/>
<line x1="516.10" y1="433.40" x2="516.10" y2="435.80" stroke="#444" stroke-width="0.8"/>
<line x1="512.35" y1="433.40" x2="519.85" y2="433.40" stroke="#444" stroke-width="0.8"/>
<rect x="529.70" y="432.60" width="12.60" height="24.90" fill="#fff" stroke="#4a4a4a" stroke-width="0.8"/>
<line x1="536.00" y1="429.80" x2="536.00" y2="435.20" stroke="#444" stroke-width="0.8"/>
<line x1="532.25" y1="429.80" x2="539.75" y2="429.80" stroke="#444" stroke-width="0.8"/>
<line x1="532.25" y1="435.20" x2="539.75" y2="435.20" stroke="#444" stroke-width="0.8"/>
<polyline points="463.4,423.9 463.4,401.0 483.9,401.0 483.9,403.4" fill="none" stroke="#777" stroke-width="0.7"/>
<text x="474.00" y="401.80" font-size="13" font-weight="bold" text-anchor="middle" fill="#111">***</text>
<text x="473.50" y="466.80" font-size="8.3" font-weight="normal" text-anchor="middle" font-style="italic" fill="#111" stroke="#111" stroke-width="0.1">+/+</text>
<text x="525.50" y="466.80" font-size="8.3" font-weight="normal" text-anchor="middle" font-style="italic" fill="#111" stroke="#111" stroke-width="0.1">Ddo/+</text>
<text x="429.70" y="414.60" font-size="9.0" font-weight="normal" text-anchor="middle" fill="#111" stroke="#111" stroke-width="0.1" transform="rotate(-90 429.70 414.60)">Time spent sniffing (s)</text>
<rect x="450.00" y="363.90" width="8.10" height="6.00" fill="#000" stroke="none" stroke-width="0.8"/>
<text x="461.60" y="369.50" font-size="6.55" font-weight="normal" text-anchor="start" fill="#111" stroke="#111" stroke-width="0.1">Familiar mouse</text>
<rect x="513.30" y="364.30" width="7.00" height="5.30" fill="#fff" stroke="#4a4a4a" stroke-width="0.7"/>
<text x="523.40" y="369.50" font-size="6.55" font-weight="normal" text-anchor="start" fill="#111" stroke="#111" stroke-width="0.1">Unfamiliar mouse</text>
<line x1="606.90" y1="374.70" x2="606.90" y2="457.50" stroke="#8a8a8a" stroke-width="1.0"/>
<line x1="605.30" y1="457.50" x2="606.90" y2="457.50" stroke="#8a8a8a" stroke-width="1.0"/>
<text x="604.00" y="459.80" font-size="6.4" font-weight="normal" text-anchor="end" fill="#111" stroke="#111" stroke-width="0.1">0</text>
<line x1="605.30" y1="436.80" x2="606.90" y2="436.80" stroke="#8a8a8a" stroke-width="1.0"/>
<text x="604.00" y="439.10" font-size="6.4" font-weight="normal" text-anchor="end" fill="#111" stroke="#111" stroke-width="0.1">20</text>
<line x1="605.30" y1="416.10" x2="606.90" y2="416.10" stroke="#8a8a8a" stroke-width="1.0"/>
<text x="604.00" y="418.40" font-size="6.4" font-weight="normal" text-anchor="end" fill="#111" stroke="#111" stroke-width="0.1">40</text>
<line x1="605.30" y1="395.40" x2="606.90" y2="395.40" stroke="#8a8a8a" stroke-width="1.0"/>
<text x="604.00" y="397.70" font-size="6.4" font-weight="normal" text-anchor="end" fill="#111" stroke="#111" stroke-width="0.1">60</text>
<line x1="605.30" y1="374.70" x2="606.90" y2="374.70" stroke="#8a8a8a" stroke-width="1.0"/>
<text x="604.00" y="377.00" font-size="6.4" font-weight="normal" text-anchor="end" fill="#111" stroke="#111" stroke-width="0.1">80</text>
<line x1="605.78" y1="447.15" x2="606.90" y2="447.15" stroke="#8a8a8a" stroke-width="1.0"/>
<line x1="605.78" y1="426.45" x2="606.90" y2="426.45" stroke="#8a8a8a" stroke-width="1.0"/>
<line x1="605.78" y1="405.75" x2="606.90" y2="405.75" stroke="#8a8a8a" stroke-width="1.0"/>
<line x1="605.78" y1="385.05" x2="606.90" y2="385.05" stroke="#8a8a8a" stroke-width="1.0"/>
<line x1="606.90" y1="457.50" x2="684.10" y2="457.50" stroke="#8a8a8a" stroke-width="1.0"/>
<line x1="628.30" y1="457.50" x2="628.30" y2="459.10" stroke="#8a8a8a" stroke-width="1.0"/>
<line x1="670.00" y1="457.50" x2="670.00" y2="459.10" stroke="#8a8a8a" stroke-width="1.0"/>
<rect x="616.40" y="387.50" width="23.80" height="70.00" fill="#000" stroke="none" stroke-width="0.8"/>
<line x1="628.30" y1="385.40" x2="628.30" y2="387.50" stroke="#444" stroke-width="0.8"/>
<line x1="623.55" y1="385.40" x2="633.05" y2="385.40" stroke="#444" stroke-width="0.8"/>
<rect x="658.40" y="401.80" width="22.90" height="55.70" fill="#fff" stroke="#4a4a4a" stroke-width="0.8"/>
<line x1="669.90" y1="398.50" x2="669.90" y2="404.70" stroke="#444" stroke-width="0.8"/>
<line x1="665.15" y1="398.50" x2="674.65" y2="398.50" stroke="#444" stroke-width="0.8"/>
<line x1="665.15" y1="404.70" x2="674.65" y2="404.70" stroke="#444" stroke-width="0.8"/>
<polyline points="628.3,373.2 628.3,363.2 670.2,363.2 670.2,394.9" fill="none" stroke="#777" stroke-width="0.7"/>
<text x="646.60" y="365.60" font-size="13" font-weight="bold" text-anchor="middle" fill="#111">**</text>
<text x="628.60" y="467.60" font-size="8.3" font-weight="normal" text-anchor="middle" font-style="italic" fill="#111" stroke="#111" stroke-width="0.1">+/+</text>
<text x="670.20" y="467.60" font-size="8.3" font-weight="normal" text-anchor="middle" font-style="italic" fill="#111" stroke="#111" stroke-width="0.1">Ddo/+</text>
<text x="593.00" y="415.70" font-size="8.5" font-weight="normal" text-anchor="middle" fill="#111" stroke="#111" stroke-width="0.1" transform="rotate(-90 593.00 415.70)">Discrimination index (%)</text>
</svg></body></html>
